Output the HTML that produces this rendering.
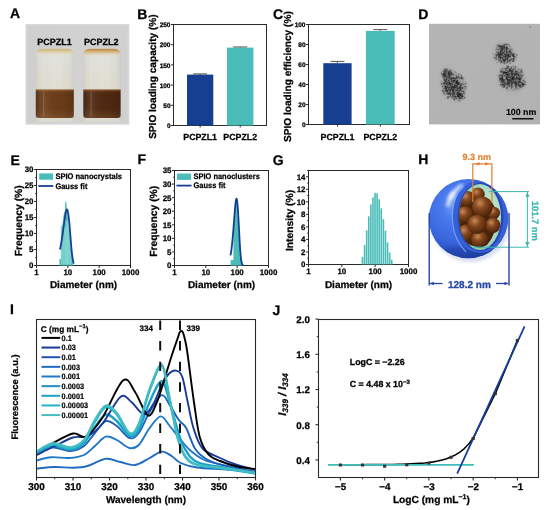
<!DOCTYPE html>
<html><head><meta charset="utf-8"><style>
html,body{margin:0;padding:0;background:#fff;width:550px;height:510px;overflow:hidden}
svg{display:block;will-change:transform}
text{font-family:"Liberation Sans",sans-serif;font-weight:bold;text-rendering:geometricPrecision}
</style></head><body>
<svg width="550" height="510" viewBox="0 0 550 510">
<rect width="550" height="510" fill="#fff"/>
<text x="10.00" y="18.20" font-size="14" text-anchor="start" fill="#000"  stroke="#000" stroke-width="0.25">A</text>
<text x="137.20" y="19.20" font-size="14" text-anchor="start" fill="#000"  stroke="#000" stroke-width="0.25">B</text>
<text x="273.00" y="19.30" font-size="14" text-anchor="start" fill="#000"  stroke="#000" stroke-width="0.25">C</text>
<text x="418.20" y="19.30" font-size="14" text-anchor="start" fill="#000"  stroke="#000" stroke-width="0.25">D</text>
<text x="10.50" y="164.60" font-size="14" text-anchor="start" fill="#000"  stroke="#000" stroke-width="0.25">E</text>
<text x="137.40" y="164.40" font-size="14" text-anchor="start" fill="#000"  stroke="#000" stroke-width="0.25">F</text>
<text x="272.80" y="165.00" font-size="14" text-anchor="start" fill="#000"  stroke="#000" stroke-width="0.25">G</text>
<text x="418.20" y="164.00" font-size="14" text-anchor="start" fill="#000"  stroke="#000" stroke-width="0.25">H</text>
<text x="10.00" y="314.20" font-size="14" text-anchor="start" fill="#000"  stroke="#000" stroke-width="0.25">I</text>
<text x="272.60" y="315.20" font-size="14" text-anchor="start" fill="#000"  stroke="#000" stroke-width="0.25">J</text>
<rect x="173.5" y="24.5" width="93.0" height="101.0" fill="none" stroke="#2a2a2a" stroke-width="1"/>
<line x1="171.00" y1="125.50" x2="173.50" y2="125.50" stroke="#2a2a2a" stroke-width="1" />
<text x="170.50" y="128.20" font-size="6.5" text-anchor="end" fill="#000"  stroke="#000" stroke-width="0.25">0</text>
<line x1="171.00" y1="105.30" x2="173.50" y2="105.30" stroke="#2a2a2a" stroke-width="1" />
<text x="170.50" y="108.00" font-size="6.5" text-anchor="end" fill="#000"  stroke="#000" stroke-width="0.25">50</text>
<line x1="171.00" y1="85.10" x2="173.50" y2="85.10" stroke="#2a2a2a" stroke-width="1" />
<text x="170.50" y="87.80" font-size="6.5" text-anchor="end" fill="#000"  stroke="#000" stroke-width="0.25">100</text>
<line x1="171.00" y1="64.90" x2="173.50" y2="64.90" stroke="#2a2a2a" stroke-width="1" />
<text x="170.50" y="67.60" font-size="6.5" text-anchor="end" fill="#000"  stroke="#000" stroke-width="0.25">150</text>
<line x1="171.00" y1="44.70" x2="173.50" y2="44.70" stroke="#2a2a2a" stroke-width="1" />
<text x="170.50" y="47.40" font-size="6.5" text-anchor="end" fill="#000"  stroke="#000" stroke-width="0.25">200</text>
<line x1="171.00" y1="24.50" x2="173.50" y2="24.50" stroke="#2a2a2a" stroke-width="1" />
<text x="170.50" y="27.20" font-size="6.5" text-anchor="end" fill="#000"  stroke="#000" stroke-width="0.25">250</text>
<rect x="187" y="74.60" width="26.30000000000001" height="50.90" fill="#163e91"/>
<line x1="200.15" y1="73.87" x2="200.15" y2="74.60" stroke="#444" stroke-width="0.9" />
<line x1="193.15" y1="73.87" x2="207.15" y2="73.87" stroke="#444" stroke-width="0.9" />
<line x1="200.15" y1="125.50" x2="200.15" y2="127.50" stroke="#2a2a2a" stroke-width="1" />
<text x="200.15" y="139.60" font-size="8.8" text-anchor="middle" fill="#000"  stroke="#000" stroke-width="0.25">PCPZL1</text>
<rect x="227" y="47.61" width="26.400000000000006" height="77.89" fill="#4bbdb8"/>
<line x1="240.20" y1="46.96" x2="240.20" y2="47.61" stroke="#444" stroke-width="0.9" />
<line x1="233.20" y1="46.96" x2="247.20" y2="46.96" stroke="#444" stroke-width="0.9" />
<line x1="240.20" y1="125.50" x2="240.20" y2="127.50" stroke="#2a2a2a" stroke-width="1" />
<text x="240.20" y="139.60" font-size="8.8" text-anchor="middle" fill="#000"  stroke="#000" stroke-width="0.25">PCPZL2</text>
<text x="0" y="0" font-size="10.1" text-anchor="middle" stroke="#000" stroke-width="0.25" transform="translate(156.4,76.6) rotate(-90)">SPIO loading capacity (%)</text>
<rect x="308.5" y="24.5" width="101.0" height="100.0" fill="none" stroke="#2a2a2a" stroke-width="1"/>
<line x1="306.00" y1="124.50" x2="308.50" y2="124.50" stroke="#2a2a2a" stroke-width="1" />
<text x="305.50" y="127.20" font-size="6.5" text-anchor="end" fill="#000"  stroke="#000" stroke-width="0.25">0</text>
<line x1="306.00" y1="104.50" x2="308.50" y2="104.50" stroke="#2a2a2a" stroke-width="1" />
<text x="305.50" y="107.20" font-size="6.5" text-anchor="end" fill="#000"  stroke="#000" stroke-width="0.25">20</text>
<line x1="306.00" y1="84.50" x2="308.50" y2="84.50" stroke="#2a2a2a" stroke-width="1" />
<text x="305.50" y="87.20" font-size="6.5" text-anchor="end" fill="#000"  stroke="#000" stroke-width="0.25">40</text>
<line x1="306.00" y1="64.50" x2="308.50" y2="64.50" stroke="#2a2a2a" stroke-width="1" />
<text x="305.50" y="67.20" font-size="6.5" text-anchor="end" fill="#000"  stroke="#000" stroke-width="0.25">60</text>
<line x1="306.00" y1="44.50" x2="308.50" y2="44.50" stroke="#2a2a2a" stroke-width="1" />
<text x="305.50" y="47.20" font-size="6.5" text-anchor="end" fill="#000"  stroke="#000" stroke-width="0.25">80</text>
<line x1="306.00" y1="24.50" x2="308.50" y2="24.50" stroke="#2a2a2a" stroke-width="1" />
<text x="305.50" y="27.20" font-size="6.5" text-anchor="end" fill="#000"  stroke="#000" stroke-width="0.25">100</text>
<rect x="323.3" y="63.20" width="28.30000000000001" height="61.30" fill="#163e91"/>
<line x1="337.45" y1="61.40" x2="337.45" y2="63.20" stroke="#444" stroke-width="0.9" />
<line x1="330.45" y1="61.40" x2="344.45" y2="61.40" stroke="#444" stroke-width="0.9" />
<line x1="337.45" y1="124.50" x2="337.45" y2="126.50" stroke="#2a2a2a" stroke-width="1" />
<text x="337.45" y="139.60" font-size="8.8" text-anchor="middle" fill="#000"  stroke="#000" stroke-width="0.25">PCPZL1</text>
<rect x="365.9" y="30.90" width="28.80000000000001" height="93.60" fill="#4bbdb8"/>
<line x1="380.30" y1="29.60" x2="380.30" y2="30.90" stroke="#444" stroke-width="0.9" />
<line x1="373.30" y1="29.60" x2="387.30" y2="29.60" stroke="#444" stroke-width="0.9" />
<line x1="380.30" y1="124.50" x2="380.30" y2="126.50" stroke="#2a2a2a" stroke-width="1" />
<text x="380.30" y="139.60" font-size="8.8" text-anchor="middle" fill="#000"  stroke="#000" stroke-width="0.25">PCPZL2</text>
<text x="0" y="0" font-size="10.1" text-anchor="middle" stroke="#000" stroke-width="0.25" transform="translate(291.3,76.6) rotate(-90)">SPIO loading efficiency (%)</text>
<rect x="36.5" y="169.5" width="94.0" height="96.0" fill="none" stroke="#2a2a2a" stroke-width="1"/>
<line x1="34.00" y1="265.50" x2="36.50" y2="265.50" stroke="#2a2a2a" stroke-width="1" />
<text x="33.50" y="268.40" font-size="7.9" text-anchor="end" fill="#000"  stroke="#000" stroke-width="0.25">0</text>
<line x1="35.00" y1="257.50" x2="36.50" y2="257.50" stroke="#2a2a2a" stroke-width="0.8" />
<line x1="34.00" y1="249.50" x2="36.50" y2="249.50" stroke="#2a2a2a" stroke-width="1" />
<text x="33.50" y="252.40" font-size="7.9" text-anchor="end" fill="#000"  stroke="#000" stroke-width="0.25">5</text>
<line x1="35.00" y1="241.50" x2="36.50" y2="241.50" stroke="#2a2a2a" stroke-width="0.8" />
<line x1="34.00" y1="233.50" x2="36.50" y2="233.50" stroke="#2a2a2a" stroke-width="1" />
<text x="33.50" y="236.40" font-size="7.9" text-anchor="end" fill="#000"  stroke="#000" stroke-width="0.25">10</text>
<line x1="35.00" y1="225.50" x2="36.50" y2="225.50" stroke="#2a2a2a" stroke-width="0.8" />
<line x1="34.00" y1="217.50" x2="36.50" y2="217.50" stroke="#2a2a2a" stroke-width="1" />
<text x="33.50" y="220.40" font-size="7.9" text-anchor="end" fill="#000"  stroke="#000" stroke-width="0.25">15</text>
<line x1="35.00" y1="209.50" x2="36.50" y2="209.50" stroke="#2a2a2a" stroke-width="0.8" />
<line x1="34.00" y1="201.50" x2="36.50" y2="201.50" stroke="#2a2a2a" stroke-width="1" />
<text x="33.50" y="204.40" font-size="7.9" text-anchor="end" fill="#000"  stroke="#000" stroke-width="0.25">20</text>
<line x1="35.00" y1="193.50" x2="36.50" y2="193.50" stroke="#2a2a2a" stroke-width="0.8" />
<line x1="34.00" y1="185.50" x2="36.50" y2="185.50" stroke="#2a2a2a" stroke-width="1" />
<text x="33.50" y="188.40" font-size="7.9" text-anchor="end" fill="#000"  stroke="#000" stroke-width="0.25">25</text>
<line x1="35.00" y1="177.50" x2="36.50" y2="177.50" stroke="#2a2a2a" stroke-width="0.8" />
<line x1="34.00" y1="169.50" x2="36.50" y2="169.50" stroke="#2a2a2a" stroke-width="1" />
<text x="33.50" y="172.40" font-size="7.9" text-anchor="end" fill="#000"  stroke="#000" stroke-width="0.25">30</text>
<line x1="36.50" y1="265.50" x2="36.50" y2="268.00" stroke="#2a2a2a" stroke-width="1" />
<text x="36.50" y="274.50" font-size="7.9" text-anchor="middle" fill="#000"  stroke="#000" stroke-width="0.25">1</text>
<line x1="67.83" y1="265.50" x2="67.83" y2="268.00" stroke="#2a2a2a" stroke-width="1" />
<text x="67.83" y="274.50" font-size="7.9" text-anchor="middle" fill="#000"  stroke="#000" stroke-width="0.25">10</text>
<line x1="99.17" y1="265.50" x2="99.17" y2="268.00" stroke="#2a2a2a" stroke-width="1" />
<text x="99.17" y="274.50" font-size="7.9" text-anchor="middle" fill="#000"  stroke="#000" stroke-width="0.25">100</text>
<line x1="130.50" y1="265.50" x2="130.50" y2="268.00" stroke="#2a2a2a" stroke-width="1" />
<text x="130.50" y="274.50" font-size="7.9" text-anchor="middle" fill="#000"  stroke="#000" stroke-width="0.25">1000</text>
<text x="83.50" y="288.10" font-size="10" text-anchor="middle" fill="#000"  stroke="#000" stroke-width="0.25">Diameter (nm)</text>
<text x="0" y="0" font-size="10.3" text-anchor="middle" stroke="#000" stroke-width="0.25" transform="translate(21.5,220.8) rotate(-90)">Frequency (%)</text>
<polygon points="59.45,265.50 59.45,259.10 60.88,259.10 60.88,227.10 62.59,223.90 63.74,214.30 64.80,211.10 65.78,201.50 66.70,207.90 67.83,217.50 69.13,230.30 70.31,243.10 71.40,252.70 72.41,260.70 73.17,265.50 73.17,265.50" fill="#4bbdb8"/>
<line x1="61.76" y1="264.50" x2="61.76" y2="220.70" stroke="#bfeeea" stroke-width="0.5" />
<line x1="62.98" y1="264.50" x2="62.98" y2="220.70" stroke="#bfeeea" stroke-width="0.5" />
<line x1="64.10" y1="264.50" x2="64.10" y2="220.70" stroke="#bfeeea" stroke-width="0.5" />
<line x1="65.30" y1="264.50" x2="65.30" y2="220.70" stroke="#bfeeea" stroke-width="0.5" />
<line x1="66.40" y1="264.50" x2="66.40" y2="220.70" stroke="#bfeeea" stroke-width="0.5" />
<line x1="67.56" y1="264.50" x2="67.56" y2="220.70" stroke="#bfeeea" stroke-width="0.5" />
<line x1="68.63" y1="264.50" x2="68.63" y2="220.70" stroke="#bfeeea" stroke-width="0.5" />
<line x1="69.85" y1="264.50" x2="69.85" y2="220.70" stroke="#bfeeea" stroke-width="0.5" />
<line x1="70.98" y1="264.50" x2="70.98" y2="220.70" stroke="#bfeeea" stroke-width="0.5" />
<line x1="65.78" y1="201.50" x2="65.78" y2="227.10" stroke="#4bbdb8" stroke-width="1" />
<path d="M59.99,249.48 C60.06,249.18 60.26,248.27 60.39,247.63 C60.52,247.00 60.65,246.34 60.78,245.67 C60.91,245.00 61.03,244.31 61.16,243.60 C61.28,242.89 61.40,242.17 61.52,241.43 C61.64,240.70 61.76,239.95 61.88,239.18 C62.00,238.42 62.12,237.65 62.23,236.87 C62.34,236.09 62.46,235.30 62.57,234.50 C62.68,233.71 62.79,232.91 62.90,232.11 C63.01,231.31 63.12,230.51 63.22,229.71 C63.33,228.92 63.44,228.12 63.54,227.33 C63.64,226.55 63.75,225.77 63.85,225.00 C63.95,224.23 64.05,223.47 64.15,222.74 C64.25,222.00 64.35,221.27 64.45,220.57 C64.54,219.87 64.64,219.19 64.74,218.53 C64.83,217.88 64.93,217.24 65.02,216.64 C65.11,216.04 65.21,215.47 65.30,214.93 C65.39,214.40 65.48,213.89 65.57,213.42 C65.66,212.96 65.75,212.52 65.84,212.13 C65.92,211.75 66.01,211.39 66.10,211.09 C66.18,210.78 66.27,210.51 66.35,210.30 C66.44,210.08 66.52,209.90 66.60,209.77 C66.69,209.64 66.77,209.56 66.85,209.52 C66.93,209.49 67.01,209.50 67.09,209.55 C67.17,209.61 67.25,209.71 67.33,209.86 C67.41,210.01 67.49,210.20 67.57,210.44 C67.64,210.68 67.72,210.96 67.80,211.29 C67.87,211.61 67.95,211.98 68.02,212.39 C68.10,212.79 68.17,213.24 68.25,213.73 C68.32,214.21 68.39,214.73 68.47,215.28 C68.54,215.83 68.61,216.42 68.68,217.03 C68.75,217.64 68.82,218.29 68.89,218.95 C68.96,219.62 69.03,220.31 69.10,221.02 C69.17,221.73 69.24,222.47 69.31,223.21 C69.38,223.96 69.45,224.72 69.51,225.49 C69.58,226.26 69.65,227.05 69.71,227.84 C69.78,228.63 69.84,229.43 69.91,230.22 C69.97,231.02 70.04,231.82 70.10,232.62 C70.17,233.42 70.23,234.22 70.30,235.01 C70.36,235.80 70.42,236.59 70.48,237.37 C70.55,238.14 70.61,238.91 70.67,239.67 C70.73,240.43 70.79,241.17 70.85,241.90 C70.92,242.63 70.98,243.35 71.04,244.05 C71.10,244.75 71.16,245.43 71.21,246.10 C71.27,246.76 71.33,247.41 71.39,248.04 C71.45,248.67 71.51,249.27 71.57,249.86 C71.62,250.45 71.68,251.02 71.74,251.57 C71.79,252.11 71.85,252.64 71.91,253.15 C71.96,253.65 72.02,254.14 72.08,254.60 C72.13,255.07 72.19,255.51 72.24,255.93 C72.30,256.36 72.35,256.76 72.41,257.14 C72.46,257.53 72.51,257.89 72.57,258.24 C72.62,258.58 72.67,258.91 72.73,259.22 C72.78,259.53 72.83,259.82 72.89,260.10 C72.94,260.37 72.99,260.63 73.04,260.87 C73.09,261.12 73.14,261.34 73.20,261.56 C73.25,261.77 73.30,261.97 73.35,262.16 C73.40,262.35 73.45,262.52 73.50,262.68 C73.55,262.85 73.60,262.99 73.65,263.14 C73.70,263.28 73.77,263.46 73.80,263.53" fill="none" stroke="#163e91" stroke-width="1.8"/>
<rect x="39.2" y="173.4" width="13.8" height="6.3" fill="#4bbdb8"/>
<text x="55.40" y="179.40" font-size="8.1" text-anchor="start" fill="#000" font-weight="normal" stroke="#000" stroke-width="0.25" textLength="66.6" lengthAdjust="spacingAndGlyphs">SPIO nanocrystals</text>
<line x1="38.40" y1="186.00" x2="53.30" y2="186.00" stroke="#163e91" stroke-width="1.8" />
<text x="55.40" y="188.50" font-size="8.1" text-anchor="start" fill="#000" font-weight="normal" stroke="#000" stroke-width="0.25" textLength="32" lengthAdjust="spacingAndGlyphs">Gauss fit</text>
<rect x="174.5" y="170.5" width="94.0" height="95.0" fill="none" stroke="#2a2a2a" stroke-width="1"/>
<line x1="172.00" y1="265.50" x2="174.50" y2="265.50" stroke="#2a2a2a" stroke-width="1" />
<text x="171.50" y="268.40" font-size="7.9" text-anchor="end" fill="#000"  stroke="#000" stroke-width="0.25">0</text>
<line x1="173.00" y1="258.71" x2="174.50" y2="258.71" stroke="#2a2a2a" stroke-width="0.8" />
<line x1="172.00" y1="251.93" x2="174.50" y2="251.93" stroke="#2a2a2a" stroke-width="1" />
<text x="171.50" y="254.83" font-size="7.9" text-anchor="end" fill="#000"  stroke="#000" stroke-width="0.25">5</text>
<line x1="173.00" y1="245.14" x2="174.50" y2="245.14" stroke="#2a2a2a" stroke-width="0.8" />
<line x1="172.00" y1="238.36" x2="174.50" y2="238.36" stroke="#2a2a2a" stroke-width="1" />
<text x="171.50" y="241.26" font-size="7.9" text-anchor="end" fill="#000"  stroke="#000" stroke-width="0.25">10</text>
<line x1="173.00" y1="231.57" x2="174.50" y2="231.57" stroke="#2a2a2a" stroke-width="0.8" />
<line x1="172.00" y1="224.79" x2="174.50" y2="224.79" stroke="#2a2a2a" stroke-width="1" />
<text x="171.50" y="227.69" font-size="7.9" text-anchor="end" fill="#000"  stroke="#000" stroke-width="0.25">15</text>
<line x1="173.00" y1="218.00" x2="174.50" y2="218.00" stroke="#2a2a2a" stroke-width="0.8" />
<line x1="172.00" y1="211.21" x2="174.50" y2="211.21" stroke="#2a2a2a" stroke-width="1" />
<text x="171.50" y="214.11" font-size="7.9" text-anchor="end" fill="#000"  stroke="#000" stroke-width="0.25">20</text>
<line x1="173.00" y1="204.43" x2="174.50" y2="204.43" stroke="#2a2a2a" stroke-width="0.8" />
<line x1="172.00" y1="197.64" x2="174.50" y2="197.64" stroke="#2a2a2a" stroke-width="1" />
<text x="171.50" y="200.54" font-size="7.9" text-anchor="end" fill="#000"  stroke="#000" stroke-width="0.25">25</text>
<line x1="173.00" y1="190.86" x2="174.50" y2="190.86" stroke="#2a2a2a" stroke-width="0.8" />
<line x1="172.00" y1="184.07" x2="174.50" y2="184.07" stroke="#2a2a2a" stroke-width="1" />
<text x="171.50" y="186.97" font-size="7.9" text-anchor="end" fill="#000"  stroke="#000" stroke-width="0.25">30</text>
<line x1="173.00" y1="177.29" x2="174.50" y2="177.29" stroke="#2a2a2a" stroke-width="0.8" />
<line x1="172.00" y1="170.50" x2="174.50" y2="170.50" stroke="#2a2a2a" stroke-width="1" />
<text x="171.50" y="173.40" font-size="7.9" text-anchor="end" fill="#000"  stroke="#000" stroke-width="0.25">35</text>
<line x1="174.50" y1="265.50" x2="174.50" y2="268.00" stroke="#2a2a2a" stroke-width="1" />
<text x="174.50" y="274.50" font-size="7.9" text-anchor="middle" fill="#000"  stroke="#000" stroke-width="0.25">1</text>
<line x1="205.83" y1="265.50" x2="205.83" y2="268.00" stroke="#2a2a2a" stroke-width="1" />
<text x="205.83" y="274.50" font-size="7.9" text-anchor="middle" fill="#000"  stroke="#000" stroke-width="0.25">10</text>
<line x1="237.17" y1="265.50" x2="237.17" y2="268.00" stroke="#2a2a2a" stroke-width="1" />
<text x="237.17" y="274.50" font-size="7.9" text-anchor="middle" fill="#000"  stroke="#000" stroke-width="0.25">100</text>
<line x1="268.50" y1="265.50" x2="268.50" y2="268.00" stroke="#2a2a2a" stroke-width="1" />
<text x="268.50" y="274.50" font-size="7.9" text-anchor="middle" fill="#000"  stroke="#000" stroke-width="0.25">1000</text>
<text x="221.50" y="288.10" font-size="10" text-anchor="middle" fill="#000"  stroke="#000" stroke-width="0.25">Diameter (nm)</text>
<text x="0" y="0" font-size="10.3" text-anchor="middle" stroke="#000" stroke-width="0.25" transform="translate(156.7,221.3) rotate(-90)">Frequency (%)</text>
<polygon points="230.66,265.50 230.66,265.50 230.66,260.07 233.43,260.07 233.43,232.93 235.11,205.79 236.61,200.36 237.70,216.64 239.42,243.79 240.94,257.36 242.68,262.79 243.56,265.50" fill="#4bbdb8"/>
<path d="M230.48,255.39 C230.54,255.06 230.72,254.14 230.84,253.45 C230.96,252.76 231.07,252.04 231.18,251.27 C231.30,250.50 231.41,249.68 231.52,248.83 C231.63,247.98 231.74,247.08 231.85,246.14 C231.96,245.21 232.07,244.23 232.17,243.21 C232.28,242.20 232.38,241.14 232.49,240.05 C232.59,238.97 232.69,237.84 232.79,236.70 C232.89,235.55 232.99,234.37 233.09,233.17 C233.19,231.98 233.29,230.75 233.39,229.52 C233.48,228.30 233.58,227.05 233.67,225.81 C233.77,224.56 233.86,223.31 233.95,222.07 C234.05,220.84 234.14,219.60 234.23,218.39 C234.32,217.18 234.41,215.99 234.50,214.83 C234.59,213.68 234.68,212.54 234.76,211.47 C234.85,210.39 234.94,209.34 235.02,208.37 C235.11,207.39 235.19,206.46 235.28,205.60 C235.36,204.74 235.45,203.95 235.53,203.23 C235.61,202.52 235.69,201.87 235.77,201.32 C235.86,200.77 235.94,200.29 236.02,199.91 C236.10,199.53 236.17,199.24 236.25,199.04 C236.33,198.84 236.41,198.74 236.49,198.73 C236.56,198.72 236.64,198.81 236.72,198.99 C236.79,199.16 236.87,199.44 236.94,199.80 C237.01,200.16 237.09,200.62 237.16,201.16 C237.24,201.70 237.31,202.33 237.38,203.02 C237.45,203.72 237.52,204.51 237.59,205.35 C237.67,206.19 237.74,207.11 237.81,208.08 C237.88,209.04 237.95,210.08 238.01,211.15 C238.08,212.22 238.15,213.34 238.22,214.49 C238.29,215.64 238.35,216.83 238.42,218.03 C238.49,219.24 238.55,220.47 238.62,221.71 C238.69,222.94 238.75,224.19 238.82,225.44 C238.88,226.68 238.95,227.93 239.01,229.16 C239.07,230.39 239.14,231.62 239.20,232.82 C239.26,234.02 239.33,235.20 239.39,236.36 C239.45,237.51 239.51,238.64 239.57,239.73 C239.64,240.82 239.70,241.89 239.76,242.91 C239.82,243.93 239.88,244.92 239.94,245.86 C240.00,246.81 240.06,247.71 240.12,248.58 C240.17,249.44 240.23,250.26 240.29,251.04 C240.35,251.82 240.41,252.55 240.46,253.25 C240.52,253.94 240.58,254.59 240.64,255.21 C240.69,255.82 240.75,256.39 240.81,256.93 C240.86,257.46 240.92,257.96 240.97,258.42 C241.03,258.88 241.08,259.30 241.14,259.70 C241.19,260.10 241.25,260.46 241.30,260.79 C241.36,261.13 241.41,261.43 241.46,261.71 C241.52,261.99 241.57,262.24 241.62,262.47 C241.67,262.71 241.73,262.91 241.78,263.10 C241.83,263.30 241.88,263.46 241.93,263.62 C241.99,263.78 242.04,263.91 242.09,264.04 C242.14,264.16 242.19,264.27 242.24,264.37 C242.29,264.47 242.34,264.56 242.39,264.64 C242.44,264.72 242.49,264.78 242.54,264.85 C242.59,264.91 242.64,264.96 242.69,265.01 C242.74,265.06 242.79,265.10 242.83,265.13 C242.88,265.17 242.93,265.20 242.98,265.23 C243.03,265.26 243.07,265.28 243.12,265.30 C243.17,265.32 243.24,265.35 243.26,265.36" fill="none" stroke="#163e91" stroke-width="1.8"/>
<rect x="177" y="173.5" width="14" height="6.4" fill="#4bbdb8"/>
<text x="193.50" y="179.40" font-size="8.1" text-anchor="start" fill="#000" font-weight="normal" stroke="#000" stroke-width="0.25" textLength="66.3" lengthAdjust="spacingAndGlyphs">SPIO nanoclusters</text>
<line x1="176.50" y1="185.60" x2="191.50" y2="185.60" stroke="#163e91" stroke-width="1.8" />
<text x="193.50" y="188.30" font-size="8.1" text-anchor="start" fill="#000" font-weight="normal" stroke="#000" stroke-width="0.25" textLength="32" lengthAdjust="spacingAndGlyphs">Gauss fit</text>
<rect x="308.5" y="170.5" width="100.0" height="94.0" fill="none" stroke="#2a2a2a" stroke-width="1"/>
<line x1="306.00" y1="264.50" x2="308.50" y2="264.50" stroke="#2a2a2a" stroke-width="1" />
<text x="305.50" y="267.40" font-size="7.9" text-anchor="end" fill="#000"  stroke="#000" stroke-width="0.25">0</text>
<line x1="307.00" y1="258.23" x2="308.50" y2="258.23" stroke="#2a2a2a" stroke-width="0.8" />
<line x1="306.00" y1="251.97" x2="308.50" y2="251.97" stroke="#2a2a2a" stroke-width="1" />
<text x="305.50" y="254.87" font-size="7.9" text-anchor="end" fill="#000"  stroke="#000" stroke-width="0.25">2</text>
<line x1="307.00" y1="245.70" x2="308.50" y2="245.70" stroke="#2a2a2a" stroke-width="0.8" />
<line x1="306.00" y1="239.43" x2="308.50" y2="239.43" stroke="#2a2a2a" stroke-width="1" />
<text x="305.50" y="242.33" font-size="7.9" text-anchor="end" fill="#000"  stroke="#000" stroke-width="0.25">4</text>
<line x1="307.00" y1="233.17" x2="308.50" y2="233.17" stroke="#2a2a2a" stroke-width="0.8" />
<line x1="306.00" y1="226.90" x2="308.50" y2="226.90" stroke="#2a2a2a" stroke-width="1" />
<text x="305.50" y="229.80" font-size="7.9" text-anchor="end" fill="#000"  stroke="#000" stroke-width="0.25">6</text>
<line x1="307.00" y1="220.63" x2="308.50" y2="220.63" stroke="#2a2a2a" stroke-width="0.8" />
<line x1="306.00" y1="214.37" x2="308.50" y2="214.37" stroke="#2a2a2a" stroke-width="1" />
<text x="305.50" y="217.27" font-size="7.9" text-anchor="end" fill="#000"  stroke="#000" stroke-width="0.25">8</text>
<line x1="307.00" y1="208.10" x2="308.50" y2="208.10" stroke="#2a2a2a" stroke-width="0.8" />
<line x1="306.00" y1="201.83" x2="308.50" y2="201.83" stroke="#2a2a2a" stroke-width="1" />
<text x="305.50" y="204.73" font-size="7.9" text-anchor="end" fill="#000"  stroke="#000" stroke-width="0.25">10</text>
<line x1="307.00" y1="195.57" x2="308.50" y2="195.57" stroke="#2a2a2a" stroke-width="0.8" />
<line x1="306.00" y1="189.30" x2="308.50" y2="189.30" stroke="#2a2a2a" stroke-width="1" />
<text x="305.50" y="192.20" font-size="7.9" text-anchor="end" fill="#000"  stroke="#000" stroke-width="0.25">12</text>
<line x1="307.00" y1="183.03" x2="308.50" y2="183.03" stroke="#2a2a2a" stroke-width="0.8" />
<line x1="306.00" y1="176.77" x2="308.50" y2="176.77" stroke="#2a2a2a" stroke-width="1" />
<text x="305.50" y="179.67" font-size="7.9" text-anchor="end" fill="#000"  stroke="#000" stroke-width="0.25">14</text>
<line x1="307.00" y1="170.50" x2="308.50" y2="170.50" stroke="#2a2a2a" stroke-width="0.8" />
<line x1="308.50" y1="264.50" x2="308.50" y2="267.00" stroke="#2a2a2a" stroke-width="1" />
<text x="308.50" y="273.50" font-size="7.9" text-anchor="middle" fill="#000"  stroke="#000" stroke-width="0.25">1</text>
<line x1="341.83" y1="264.50" x2="341.83" y2="267.00" stroke="#2a2a2a" stroke-width="1" />
<text x="341.83" y="273.50" font-size="7.9" text-anchor="middle" fill="#000"  stroke="#000" stroke-width="0.25">10</text>
<line x1="375.17" y1="264.50" x2="375.17" y2="267.00" stroke="#2a2a2a" stroke-width="1" />
<text x="375.17" y="273.50" font-size="7.9" text-anchor="middle" fill="#000"  stroke="#000" stroke-width="0.25">100</text>
<line x1="408.50" y1="264.50" x2="408.50" y2="267.00" stroke="#2a2a2a" stroke-width="1" />
<text x="408.50" y="273.50" font-size="7.9" text-anchor="middle" fill="#000"  stroke="#000" stroke-width="0.25">1000</text>
<text x="358.50" y="287.90" font-size="10" text-anchor="middle" fill="#000"  stroke="#000" stroke-width="0.25">Diameter (nm)</text>
<text x="0" y="0" font-size="10.3" text-anchor="middle" stroke="#000" stroke-width="0.25" transform="translate(293.2,220.5) rotate(-90)">Intensity (%)</text>
<rect x="361.70" y="256.98" width="1.64" height="7.52" fill="#4bbdb8"/>
<rect x="363.79" y="245.07" width="1.64" height="19.43" fill="#4bbdb8"/>
<rect x="365.87" y="230.35" width="1.64" height="34.15" fill="#4bbdb8"/>
<rect x="367.96" y="216.25" width="1.64" height="48.25" fill="#4bbdb8"/>
<rect x="370.05" y="204.53" width="1.64" height="59.97" fill="#4bbdb8"/>
<rect x="372.13" y="197.45" width="1.64" height="67.05" fill="#4bbdb8"/>
<rect x="374.22" y="192.81" width="1.64" height="71.69" fill="#4bbdb8"/>
<rect x="376.31" y="193.31" width="1.64" height="71.19" fill="#4bbdb8"/>
<rect x="378.39" y="199.33" width="1.64" height="65.17" fill="#4bbdb8"/>
<rect x="380.48" y="208.29" width="1.64" height="56.21" fill="#4bbdb8"/>
<rect x="382.57" y="219.19" width="1.64" height="45.31" fill="#4bbdb8"/>
<rect x="384.65" y="230.79" width="1.64" height="33.71" fill="#4bbdb8"/>
<rect x="386.74" y="242.50" width="1.64" height="22.00" fill="#4bbdb8"/>
<rect x="388.83" y="252.53" width="1.64" height="11.97" fill="#4bbdb8"/>
<rect x="390.91" y="259.67" width="1.64" height="4.83" fill="#4bbdb8"/>
<clipPath id="clipI"><rect x="36.5" y="319.5" width="219.0" height="158.0"/></clipPath>
<g clip-path="url(#clipI)">
<path d="M36.50,468.60 C39.54,468.33 48.67,467.13 54.75,467.00 C60.83,466.87 67.53,467.97 73.00,467.80 C78.47,467.63 82.12,467.50 87.60,466.00 C93.07,464.50 100.38,459.47 105.85,458.80 C111.32,458.13 115.58,460.97 120.45,462.00 C125.32,463.03 130.18,465.67 135.05,465.00 C139.92,464.33 145.21,460.23 149.65,458.00 C154.09,455.77 158.05,451.93 161.70,451.60 C165.35,451.27 168.39,454.10 171.55,456.00 C174.71,457.90 176.42,461.08 180.68,463.00 C184.93,464.92 189.50,466.42 197.10,467.50 C204.70,468.58 216.57,468.75 226.30,469.50 C236.03,470.25 250.63,471.58 255.50,472.00" fill="none" stroke="#1f6bc0" stroke-width="1.9" stroke-linejoin="round"/>
<path d="M36.50,460.50 C38.93,459.95 45.62,457.62 51.10,457.20 C56.58,456.78 63.87,458.37 69.35,458.00 C74.82,457.63 79.69,457.00 83.95,455.00 C88.21,453.00 91.25,449.05 94.90,446.00 C98.55,442.95 102.20,437.70 105.85,436.70 C109.50,435.70 112.85,438.12 116.80,440.00 C120.75,441.88 125.92,447.17 129.57,448.00 C133.22,448.83 135.35,448.33 138.70,445.00 C142.05,441.67 146.00,432.77 149.65,428.00 C153.30,423.23 157.25,416.73 160.60,416.40 C163.95,416.07 166.68,422.48 169.72,426.00 C172.77,429.52 175.50,433.50 178.85,437.50 C182.20,441.50 185.54,446.25 189.80,450.00 C194.06,453.75 198.32,457.33 204.40,460.00 C210.48,462.67 217.78,464.00 226.30,466.00 C234.82,468.00 250.63,471.00 255.50,472.00" fill="none" stroke="#2079c8" stroke-width="1.9" stroke-linejoin="round"/>
<path d="M36.50,455.00 C39.18,453.75 46.90,448.17 52.56,447.50 C58.22,446.83 65.21,451.25 70.45,451.00 C75.68,450.75 79.87,449.00 83.95,446.00 C88.03,443.00 91.25,437.13 94.90,433.00 C98.55,428.87 102.20,422.37 105.85,421.20 C109.50,420.03 112.85,423.20 116.80,426.00 C120.75,428.80 125.92,436.83 129.57,438.00 C133.22,439.17 135.35,437.33 138.70,433.00 C142.05,428.67 145.82,418.30 149.65,412.00 C153.48,405.70 158.35,396.37 161.70,395.20 C165.04,394.03 166.87,400.87 169.72,405.00 C172.58,409.13 176.11,416.17 178.85,420.00 C181.59,423.83 183.41,423.17 186.15,428.00 C188.89,432.83 191.62,443.67 195.28,449.00 C198.93,454.33 202.88,457.17 208.05,460.00 C213.22,462.83 218.39,464.00 226.30,466.00 C234.21,468.00 250.63,471.00 255.50,472.00" fill="none" stroke="#1f62b8" stroke-width="1.9" stroke-linejoin="round"/>
<path d="M36.50,453.50 C39.18,452.17 46.90,446.17 52.56,445.50 C58.22,444.83 65.21,449.92 70.45,449.50 C75.68,449.08 79.87,446.75 83.95,443.00 C88.03,439.25 91.25,431.73 94.90,427.00 C98.55,422.27 102.20,415.60 105.85,414.60 C109.50,413.60 112.85,417.43 116.80,421.00 C120.75,424.57 125.92,434.50 129.57,436.00 C133.22,437.50 135.35,435.67 138.70,430.00 C142.05,424.33 145.82,410.15 149.65,402.00 C153.48,393.85 158.35,381.10 161.70,381.10 C165.04,381.10 167.17,394.18 169.72,402.00 C172.28,409.82 174.59,420.33 177.03,428.00 C179.46,435.67 180.98,442.33 184.32,448.00 C187.67,453.67 190.10,458.67 197.10,462.00 C204.10,465.33 216.57,466.17 226.30,468.00 C236.03,469.83 250.63,472.17 255.50,473.00" fill="none" stroke="#1aa0c8" stroke-width="2.4" stroke-linejoin="round"/>
<path d="M36.50,455.00 C39.54,453.50 48.67,448.92 54.75,446.00 C60.83,443.08 67.53,439.17 73.00,437.50 C78.47,435.83 82.73,438.25 87.60,436.00 C92.47,433.75 96.72,430.50 102.20,424.00 C107.68,417.50 115.58,400.67 120.45,397.00 C125.32,393.33 127.51,399.12 131.40,402.00 C135.29,404.88 140.16,413.97 143.81,414.30 C147.46,414.63 150.38,408.72 153.30,404.00 C156.22,399.28 158.77,391.00 161.33,386.00 C163.88,381.00 166.20,376.57 168.63,374.00 C171.06,371.43 173.68,370.18 175.93,370.60 C178.18,371.02 180.19,371.35 182.13,376.50 C184.08,381.65 185.72,392.92 187.61,401.50 C189.50,410.08 190.96,420.17 193.45,428.00 C195.94,435.83 198.13,443.50 202.57,448.50 C207.02,453.50 214.32,455.25 220.10,458.00 C225.87,460.75 231.35,463.00 237.25,465.00 C243.15,467.00 252.46,469.17 255.50,470.00" fill="none" stroke="#1a3a99" stroke-width="1.9" stroke-linejoin="round"/>
<path d="M36.50,452.00 C38.93,450.67 45.02,447.08 51.10,444.00 C57.18,440.92 67.22,434.75 73.00,433.50 C78.78,432.25 80.91,439.08 85.78,436.50 C90.64,433.92 96.00,427.32 102.20,418.00 C108.41,408.68 117.53,384.93 123.00,380.60 C128.48,376.27 130.91,386.18 135.05,392.00 C139.19,397.82 144.17,413.83 147.82,415.50 C151.47,417.17 153.85,409.15 156.95,402.00 C160.05,394.85 163.95,380.43 166.44,372.60 C168.93,364.77 170.03,360.77 171.92,355.00 C173.80,349.23 176.42,341.87 177.75,338.00 C179.09,334.13 179.15,332.83 179.95,331.80 C180.74,330.77 181.65,330.43 182.50,331.80 C183.35,333.17 184.20,336.23 185.05,340.00 C185.91,343.77 186.21,344.65 187.61,354.40 C189.01,364.15 191.44,384.77 193.45,398.50 C195.46,412.23 197.16,427.48 199.65,436.80 C202.15,446.12 205.01,450.37 208.42,454.40 C211.82,458.43 215.29,458.98 220.10,461.00 C224.90,463.02 231.35,465.17 237.25,466.50 C243.15,467.83 252.46,468.58 255.50,469.00" fill="none" stroke="#000000" stroke-width="1.9" stroke-linejoin="round"/>
<path d="M36.50,452.50 C39.18,451.13 46.90,444.98 52.56,444.30 C58.22,443.62 65.21,448.95 70.45,448.40 C75.68,447.85 79.87,445.40 83.95,441.00 C88.03,436.60 91.25,427.67 94.90,422.00 C98.55,416.33 102.20,408.25 105.85,407.00 C109.50,405.75 112.85,409.92 116.80,414.50 C120.75,419.08 125.92,432.67 129.57,434.50 C133.22,436.33 135.35,432.83 138.70,425.50 C142.05,418.17 145.82,400.42 149.65,390.50 C153.48,380.58 158.47,365.00 161.70,366.00 C164.92,367.00 166.99,387.50 169.00,396.50 C171.00,405.50 172.16,412.58 173.74,420.00 C175.32,427.42 176.54,434.83 178.48,441.00 C180.43,447.17 182.32,453.00 185.42,457.00 C188.52,461.00 190.29,463.00 197.10,465.00 C203.91,467.00 216.57,467.58 226.30,469.00 C236.03,470.42 250.63,472.75 255.50,473.50" fill="none" stroke="#22b5c8" stroke-width="2.3" stroke-linejoin="round"/>
<path d="M36.50,451.50 C39.18,450.13 46.90,443.98 52.56,443.30 C58.22,442.62 65.21,447.95 70.45,447.40 C75.68,446.85 79.87,444.57 83.95,440.00 C88.03,435.43 91.25,425.73 94.90,420.00 C98.55,414.27 102.20,406.77 105.85,405.60 C109.50,404.43 112.85,408.43 116.80,413.00 C120.75,417.57 125.92,431.17 129.57,433.00 C133.22,434.83 135.35,431.33 138.70,424.00 C142.05,416.67 145.82,398.88 149.65,389.00 C153.48,379.12 158.47,363.67 161.70,364.70 C164.92,365.73 166.99,386.20 169.00,395.20 C171.00,404.20 172.16,411.25 173.74,418.70 C175.32,426.15 176.54,433.63 178.48,439.90 C180.43,446.17 182.32,452.20 185.42,456.30 C188.52,460.40 190.29,462.47 197.10,464.50 C203.91,466.53 216.57,467.08 226.30,468.50 C236.03,469.92 250.63,472.25 255.50,473.00" fill="none" stroke="#45bcc0" stroke-width="2.3" stroke-linejoin="round"/>
</g>
<line x1="160.20" y1="320.50" x2="160.20" y2="477.00" stroke="#111" stroke-width="2" stroke-dasharray="9.4 11.2"/>
<line x1="180.00" y1="320.50" x2="180.00" y2="477.00" stroke="#111" stroke-width="2" stroke-dasharray="9.4 11.2"/>
<rect x="36.5" y="319.5" width="219.0" height="158.0" fill="none" stroke="#2a2a2a" stroke-width="1.1"/>
<line x1="36.50" y1="477.50" x2="36.50" y2="480.50" stroke="#2a2a2a" stroke-width="1.1" />
<text x="36.50" y="489.90" font-size="9.9" text-anchor="middle" fill="#000"  stroke="#000" stroke-width="0.25">300</text>
<line x1="73.00" y1="477.50" x2="73.00" y2="480.50" stroke="#2a2a2a" stroke-width="1.1" />
<text x="73.00" y="489.90" font-size="9.9" text-anchor="middle" fill="#000"  stroke="#000" stroke-width="0.25">310</text>
<line x1="109.50" y1="477.50" x2="109.50" y2="480.50" stroke="#2a2a2a" stroke-width="1.1" />
<text x="109.50" y="489.90" font-size="9.9" text-anchor="middle" fill="#000"  stroke="#000" stroke-width="0.25">320</text>
<line x1="146.00" y1="477.50" x2="146.00" y2="480.50" stroke="#2a2a2a" stroke-width="1.1" />
<text x="146.00" y="489.90" font-size="9.9" text-anchor="middle" fill="#000"  stroke="#000" stroke-width="0.25">330</text>
<line x1="182.50" y1="477.50" x2="182.50" y2="480.50" stroke="#2a2a2a" stroke-width="1.1" />
<text x="182.50" y="489.90" font-size="9.9" text-anchor="middle" fill="#000"  stroke="#000" stroke-width="0.25">340</text>
<line x1="219.00" y1="477.50" x2="219.00" y2="480.50" stroke="#2a2a2a" stroke-width="1.1" />
<text x="219.00" y="489.90" font-size="9.9" text-anchor="middle" fill="#000"  stroke="#000" stroke-width="0.25">350</text>
<line x1="255.50" y1="477.50" x2="255.50" y2="480.50" stroke="#2a2a2a" stroke-width="1.1" />
<text x="255.50" y="489.90" font-size="9.9" text-anchor="middle" fill="#000"  stroke="#000" stroke-width="0.25">360</text>
<line x1="54.75" y1="477.50" x2="54.75" y2="479.30" stroke="#2a2a2a" stroke-width="0.9" />
<line x1="91.25" y1="477.50" x2="91.25" y2="479.30" stroke="#2a2a2a" stroke-width="0.9" />
<line x1="127.75" y1="477.50" x2="127.75" y2="479.30" stroke="#2a2a2a" stroke-width="0.9" />
<line x1="164.25" y1="477.50" x2="164.25" y2="479.30" stroke="#2a2a2a" stroke-width="0.9" />
<line x1="200.75" y1="477.50" x2="200.75" y2="479.30" stroke="#2a2a2a" stroke-width="0.9" />
<line x1="237.25" y1="477.50" x2="237.25" y2="479.30" stroke="#2a2a2a" stroke-width="0.9" />
<text x="146.00" y="502.50" font-size="10" text-anchor="middle" fill="#000"  stroke="#000" stroke-width="0.25">Wavelength (nm)</text>
<text x="0" y="0" font-size="9.35" text-anchor="middle" stroke="#000" stroke-width="0.25" transform="translate(18.3,397) rotate(-90)">Fluorescence (a.u.)</text>
<text x="146.20" y="330.50" font-size="8" text-anchor="middle" fill="#000"  stroke="#000" stroke-width="0.25">334</text>
<text x="193.20" y="330.50" font-size="8" text-anchor="middle" fill="#000"  stroke="#000" stroke-width="0.25">339</text>
<text x="40.80" y="331.60" font-size="8.3" text-anchor="start" fill="#000"  stroke="#000" stroke-width="0.25">C (mg mL<tspan font-size="5.8" dy="-3.2">−1</tspan><tspan dy="3.2">)</tspan></text>
<line x1="41.50" y1="337.90" x2="60.20" y2="337.90" stroke="#000000" stroke-width="2" />
<text x="61.60" y="340.80" font-size="7.9" text-anchor="start" fill="#000" stroke="#000" stroke-width="0.2" textLength="10.22" lengthAdjust="spacingAndGlyphs">0.1</text>
<line x1="41.50" y1="347.55" x2="60.20" y2="347.55" stroke="#1a3a99" stroke-width="2" />
<text x="61.60" y="350.45" font-size="7.9" text-anchor="start" fill="#000" stroke="#000" stroke-width="0.2" textLength="14.30" lengthAdjust="spacingAndGlyphs">0.03</text>
<line x1="41.50" y1="357.20" x2="60.20" y2="357.20" stroke="#1f55b0" stroke-width="2" />
<text x="61.60" y="360.10" font-size="7.9" text-anchor="start" fill="#000" stroke="#000" stroke-width="0.2" textLength="14.30" lengthAdjust="spacingAndGlyphs">0.01</text>
<line x1="41.50" y1="366.85" x2="60.20" y2="366.85" stroke="#1f6bc0" stroke-width="2" />
<text x="61.60" y="369.75" font-size="7.9" text-anchor="start" fill="#000" stroke="#000" stroke-width="0.2" textLength="18.39" lengthAdjust="spacingAndGlyphs">0.003</text>
<line x1="41.50" y1="376.50" x2="60.20" y2="376.50" stroke="#2079c8" stroke-width="2" />
<text x="61.60" y="379.40" font-size="7.9" text-anchor="start" fill="#000" stroke="#000" stroke-width="0.2" textLength="18.39" lengthAdjust="spacingAndGlyphs">0.001</text>
<line x1="41.50" y1="386.15" x2="60.20" y2="386.15" stroke="#1f8fc6" stroke-width="2" />
<text x="61.60" y="389.05" font-size="7.9" text-anchor="start" fill="#000" stroke="#000" stroke-width="0.2" textLength="22.48" lengthAdjust="spacingAndGlyphs">0.0003</text>
<line x1="41.50" y1="395.80" x2="60.20" y2="395.80" stroke="#1aa0c8" stroke-width="2" />
<text x="61.60" y="398.70" font-size="7.9" text-anchor="start" fill="#000" stroke="#000" stroke-width="0.2" textLength="22.48" lengthAdjust="spacingAndGlyphs">0.0001</text>
<line x1="41.50" y1="405.45" x2="60.20" y2="405.45" stroke="#22b5c8" stroke-width="2" />
<text x="61.60" y="408.35" font-size="7.9" text-anchor="start" fill="#000" stroke="#000" stroke-width="0.2" textLength="26.56" lengthAdjust="spacingAndGlyphs">0.00003</text>
<line x1="41.50" y1="415.10" x2="60.20" y2="415.10" stroke="#45bcc0" stroke-width="2" />
<text x="61.60" y="418.00" font-size="7.9" text-anchor="start" fill="#000" stroke="#000" stroke-width="0.2" textLength="26.56" lengthAdjust="spacingAndGlyphs">0.00001</text>
<rect x="318.5" y="319.5" width="220.0" height="158.0" fill="none" stroke="#2a2a2a" stroke-width="1.1"/>
<line x1="315.50" y1="459.90" x2="318.50" y2="459.90" stroke="#2a2a2a" stroke-width="1.1" />
<text x="309.90" y="463.70" font-size="9.8" text-anchor="end" fill="#000"  stroke="#000" stroke-width="0.25">0.4</text>
<line x1="315.50" y1="424.70" x2="318.50" y2="424.70" stroke="#2a2a2a" stroke-width="1.1" />
<text x="309.90" y="428.50" font-size="9.8" text-anchor="end" fill="#000"  stroke="#000" stroke-width="0.25">0.8</text>
<line x1="315.50" y1="389.50" x2="318.50" y2="389.50" stroke="#2a2a2a" stroke-width="1.1" />
<text x="309.90" y="393.30" font-size="9.8" text-anchor="end" fill="#000"  stroke="#000" stroke-width="0.25">1.2</text>
<line x1="315.50" y1="354.30" x2="318.50" y2="354.30" stroke="#2a2a2a" stroke-width="1.1" />
<text x="309.90" y="358.10" font-size="9.8" text-anchor="end" fill="#000"  stroke="#000" stroke-width="0.25">1.6</text>
<line x1="315.50" y1="319.10" x2="318.50" y2="319.10" stroke="#2a2a2a" stroke-width="1.1" />
<text x="309.90" y="322.90" font-size="9.8" text-anchor="end" fill="#000"  stroke="#000" stroke-width="0.25">2.0</text>
<line x1="316.70" y1="442.30" x2="318.50" y2="442.30" stroke="#2a2a2a" stroke-width="0.9" />
<line x1="316.70" y1="407.10" x2="318.50" y2="407.10" stroke="#2a2a2a" stroke-width="0.9" />
<line x1="316.70" y1="371.90" x2="318.50" y2="371.90" stroke="#2a2a2a" stroke-width="0.9" />
<line x1="316.70" y1="336.70" x2="318.50" y2="336.70" stroke="#2a2a2a" stroke-width="0.9" />
<line x1="340.40" y1="477.50" x2="340.40" y2="480.50" stroke="#2a2a2a" stroke-width="1.1" />
<text x="340.70" y="490.30" font-size="9.8" text-anchor="middle" fill="#000"  stroke="#000" stroke-width="0.25">−5</text>
<line x1="384.65" y1="477.50" x2="384.65" y2="480.50" stroke="#2a2a2a" stroke-width="1.1" />
<text x="384.95" y="490.30" font-size="9.8" text-anchor="middle" fill="#000"  stroke="#000" stroke-width="0.25">−4</text>
<line x1="428.90" y1="477.50" x2="428.90" y2="480.50" stroke="#2a2a2a" stroke-width="1.1" />
<text x="429.20" y="490.30" font-size="9.8" text-anchor="middle" fill="#000"  stroke="#000" stroke-width="0.25">−3</text>
<line x1="473.15" y1="477.50" x2="473.15" y2="480.50" stroke="#2a2a2a" stroke-width="1.1" />
<text x="473.45" y="490.30" font-size="9.8" text-anchor="middle" fill="#000"  stroke="#000" stroke-width="0.25">−2</text>
<line x1="517.40" y1="477.50" x2="517.40" y2="480.50" stroke="#2a2a2a" stroke-width="1.1" />
<text x="517.70" y="490.30" font-size="9.8" text-anchor="middle" fill="#000"  stroke="#000" stroke-width="0.25">−1</text>
<line x1="362.52" y1="477.50" x2="362.52" y2="479.30" stroke="#2a2a2a" stroke-width="0.9" />
<line x1="406.77" y1="477.50" x2="406.77" y2="479.30" stroke="#2a2a2a" stroke-width="0.9" />
<line x1="451.02" y1="477.50" x2="451.02" y2="479.30" stroke="#2a2a2a" stroke-width="0.9" />
<line x1="495.27" y1="477.50" x2="495.27" y2="479.30" stroke="#2a2a2a" stroke-width="0.9" />
<text x="431.40" y="503.20" font-size="10.2" text-anchor="middle" fill="#000"  stroke="#000" stroke-width="0.25">LogC (mg mL<tspan font-size="7" dy="-4">−1</tspan><tspan dy="4">)</tspan></text>
<text x="0" y="0" font-size="11.2" text-anchor="middle" font-style="italic" stroke="#000" stroke-width="0.25" transform="translate(285.6,394.5) rotate(-90)">I<tspan font-size="8" dy="2.4">339</tspan><tspan dy="-2.4"> / I</tspan><tspan font-size="8" dy="2.4">334</tspan></text>
<text x="349.80" y="364.80" font-size="8.8" text-anchor="start" fill="#000" font-weight="normal" stroke="#000" stroke-width="0.3">LogC = −2.26</text>
<text x="349.80" y="387.40" font-size="8.8" text-anchor="start" fill="#000" font-weight="normal" stroke="#000" stroke-width="0.3">C = 4.48 x 10<tspan font-size="6.2" dy="-3.8">−3</tspan></text>
<path d="M340.40,464.72 L344.82,464.72 L349.25,464.71 L353.67,464.71 L358.10,464.70 L362.52,464.68 L366.95,464.67 L371.38,464.65 L375.80,464.62 L380.23,464.59 L384.65,464.55 L389.07,464.50 L393.50,464.43 L397.92,464.34 L402.35,464.23 L406.77,464.09 L411.20,463.90 L415.62,463.67 L420.05,463.37 L424.47,462.98 L428.90,462.49 L433.32,461.86 L437.75,461.06 L442.17,460.02 L446.60,458.70 L451.02,457.01 L455.45,454.85 L459.88,452.07 L464.30,448.52 L468.72,443.98 L473.15,438.16 L495.27,393.7 L517.40,340.4" fill="none" stroke="#000" stroke-width="1.6" stroke-linejoin="round"/>
<line x1="328.01" y1="464.90" x2="473.90" y2="464.90" stroke="#3dbdb8" stroke-width="1.8" />
<line x1="457.20" y1="473.60" x2="524.60" y2="326.30" stroke="#173f9a" stroke-width="1.8" />
<rect x="338.80" y="463.50" width="3.2" height="3" fill="#333"/>
<rect x="360.92" y="463.50" width="3.2" height="3" fill="#333"/>
<rect x="383.05" y="464.70" width="3.2" height="3" fill="#333"/>
<rect x="405.17" y="463.30" width="3.2" height="3" fill="#333"/>
<rect x="427.30" y="461.50" width="3.2" height="3" fill="#333"/>
<rect x="449.42" y="455.80" width="3.2" height="3" fill="#333"/>
<rect x="471.55" y="437.00" width="3.2" height="3" fill="#333"/>
<rect x="493.67" y="392.20" width="3.2" height="3" fill="#333"/>
<rect x="515.80" y="338.90" width="3.2" height="3" fill="#333"/>
<defs>
<linearGradient id="abg" x1="0" y1="0" x2="1" y2="0">
<stop offset="0" stop-color="#cecece"/><stop offset="0.5" stop-color="#d2d2d3"/><stop offset="1" stop-color="#d0d0d0"/></linearGradient>
<linearGradient id="glass" x1="0" y1="0" x2="1" y2="0">
<stop offset="0" stop-color="#cfcfc9"/><stop offset="0.12" stop-color="#dcdcd6"/><stop offset="0.5" stop-color="#e2e2dc"/><stop offset="0.88" stop-color="#dbdbd4"/><stop offset="1" stop-color="#cdcdc7"/></linearGradient>
<linearGradient id="liq1" x1="0" y1="0" x2="0" y2="1">
<stop offset="0" stop-color="#7a4a22"/><stop offset="0.15" stop-color="#6a3c18"/><stop offset="0.7" stop-color="#6c3e19"/><stop offset="1" stop-color="#7a4e2a"/></linearGradient>
<linearGradient id="liq2" x1="0" y1="0" x2="0" y2="1">
<stop offset="0" stop-color="#6a3818"/><stop offset="0.15" stop-color="#4e2810"/><stop offset="0.7" stop-color="#522b12"/><stop offset="1" stop-color="#643c20"/></linearGradient>
<linearGradient id="tint" x1="0" y1="0" x2="0" y2="1"><stop offset="0" stop-color="#d8c890" stop-opacity="0"/><stop offset="1" stop-color="#d8c890" stop-opacity="0.14"/></linearGradient>
<linearGradient id="liqshade" x1="0" y1="0" x2="1" y2="0">
<stop offset="0" stop-color="#000" stop-opacity="0.18"/><stop offset="0.25" stop-color="#fff" stop-opacity="0.06"/><stop offset="0.6" stop-color="#000" stop-opacity="0"/><stop offset="1" stop-color="#000" stop-opacity="0.15"/></linearGradient>
<linearGradient id="cap1" x1="0" y1="0" x2="0" y2="1">
<stop offset="0" stop-color="#c9b27a"/><stop offset="0.3" stop-color="#d8c89c"/><stop offset="1" stop-color="#ebe9e0" stop-opacity="0"/></linearGradient>
<linearGradient id="cap2" x1="0" y1="0" x2="0" y2="1">
<stop offset="0" stop-color="#b8884a"/><stop offset="0.3" stop-color="#d0aa6c"/><stop offset="1" stop-color="#ebe6d8" stop-opacity="0"/></linearGradient>
</defs>
<rect x="25.7" y="24" width="103.5" height="100.5" fill="url(#abg)"/>
<rect x="26.5" y="24.8" width="101.9" height="98.9" fill="none" stroke="#dadada" stroke-width="1.6" opacity="0.8"/>
<path d="M35.2,56 Q35.2,48.6 42.2,48.6 L67.4,48.6 Q74.4,48.6 74.4,56 L74.4,118 Q74.4,121.5 70.4,121.5 L39.2,121.5 Q35.2,121.5 35.2,118 Z" fill="url(#glass)"/>
<path d="M35.5,56 Q35.5,48.8 42.2,48.8 L67.4,48.8 Q74.10000000000001,48.8 74.10000000000001,56 L74.10000000000001,57 L35.5,57 Z" fill="url(#cap1)"/>
<rect x="36.2" y="60" width="37.2" height="30" fill="url(#tint)"/>
<rect x="43.04" y="58" width="1.4" height="58" fill="#fff" opacity="0.14"/>
<rect x="60.29" y="58" width="1.4" height="58" fill="#fff" opacity="0.1"/>
<path d="M35.800000000000004,89.6 L73.80000000000001,89.6 L73.80000000000001,115 Q73.80000000000001,118 70.4,118 L39.2,118 Q35.800000000000004,118 35.800000000000004,115 Z" fill="url(#liq1)"/>
<rect x="35.800000000000004" y="89.6" width="38.0" height="28.4" fill="url(#liqshade)"/>
<rect x="36.2" y="89.4" width="37.2" height="1" fill="#c09060" opacity="0.6"/>
<rect x="43.04" y="92" width="1.2" height="24" fill="#e0b080" opacity="0.25"/>
<rect x="37.2" y="118" width="35.2" height="3.5" fill="#dcd8cc" opacity="0.8"/>
<path d="M82.8,56 Q82.8,48.6 89.8,48.6 L114.2,48.6 Q121.2,48.6 121.2,56 L121.2,118 Q121.2,121.5 117.2,121.5 L86.8,121.5 Q82.8,121.5 82.8,118 Z" fill="url(#glass)"/>
<path d="M83.1,56 Q83.1,48.8 89.8,48.8 L114.2,48.8 Q120.9,48.8 120.9,56 L120.9,57 L83.1,57 Z" fill="url(#cap2)"/>
<rect x="83.8" y="60" width="36.400000000000006" height="30" fill="url(#tint)"/>
<rect x="90.48" y="58" width="1.4" height="58" fill="#fff" opacity="0.14"/>
<rect x="107.38" y="58" width="1.4" height="58" fill="#fff" opacity="0.1"/>
<path d="M83.39999999999999,89.6 L120.60000000000001,89.6 L120.60000000000001,115 Q120.60000000000001,118 117.2,118 L86.8,118 Q83.39999999999999,118 83.39999999999999,115 Z" fill="url(#liq2)"/>
<rect x="83.39999999999999" y="89.6" width="37.2" height="28.4" fill="url(#liqshade)"/>
<rect x="83.8" y="89.4" width="36.400000000000006" height="1" fill="#c09060" opacity="0.6"/>
<rect x="90.48" y="92" width="1.2" height="24" fill="#e0b080" opacity="0.25"/>
<rect x="84.8" y="118" width="34.400000000000006" height="3.5" fill="#dcd8cc" opacity="0.8"/>
<text x="54.4" y="45" font-size="9" text-anchor="middle" stroke="#000" stroke-width="0.25">PCPZL1</text>
<text x="101.2" y="45" font-size="9" text-anchor="middle" stroke="#000" stroke-width="0.25">PCPZL2</text>
<defs><clipPath id="dclip"><rect x="429" y="23.8" width="111" height="100.6"/></clipPath><linearGradient id="dbg" x1="0" y1="0" x2="1" y2="1"><stop offset="0" stop-color="#b5b5b5"/><stop offset="1" stop-color="#b2b2b2"/></linearGradient><filter id="blur1" x="-50%" y="-50%" width="200%" height="200%"><feGaussianBlur stdDeviation="2.8"/></filter><filter id="blur2" x="-50%" y="-50%" width="200%" height="200%"><feGaussianBlur stdDeviation="0.5"/></filter></defs>
<rect x="429" y="23.8" width="111" height="100.6" fill="url(#dbg)"/>
<g clip-path="url(#dclip)">
<ellipse cx="512" cy="88" rx="9" ry="6" fill="#a8a8a8" opacity="0.6" filter="url(#blur1)"/>
<ellipse cx="453.5" cy="86" rx="10.8" ry="11.600000000000001" fill="#707070" opacity="0.45" filter="url(#blur1)"/>
<ellipse cx="447" cy="74" rx="4.800000000000001" ry="4.800000000000001" fill="#707070" opacity="0.45" filter="url(#blur1)"/>
<ellipse cx="458" cy="95" rx="6.4" ry="4.800000000000001" fill="#707070" opacity="0.45" filter="url(#blur1)"/>
<ellipse cx="505" cy="56" rx="10.0" ry="6.800000000000001" fill="#707070" opacity="0.45" filter="url(#blur1)"/>
<ellipse cx="503" cy="48.5" rx="6.800000000000001" ry="4.4" fill="#707070" opacity="0.45" filter="url(#blur1)"/>
<ellipse cx="511" cy="78" rx="11.600000000000001" ry="10.4" fill="#707070" opacity="0.45" filter="url(#blur1)"/>
<ellipse cx="520" cy="83" rx="4.800000000000001" ry="4.0" fill="#707070" opacity="0.45" filter="url(#blur1)"/>
<g filter="url(#blur2)">
<circle cx="452.2" cy="86.5" r="0.75" fill="rgb(74,74,74)" opacity="0.84"/>
<circle cx="461.7" cy="83.7" r="0.55" fill="rgb(38,38,38)" opacity="0.62"/>
<circle cx="457.7" cy="88.3" r="0.96" fill="rgb(16,16,16)" opacity="0.78"/>
<circle cx="448.8" cy="87.5" r="0.85" fill="rgb(44,44,44)" opacity="0.77"/>
<circle cx="453.5" cy="89.9" r="0.72" fill="rgb(50,50,50)" opacity="0.81"/>
<circle cx="454.9" cy="98.7" r="0.67" fill="rgb(47,47,47)" opacity="0.53"/>
<circle cx="446.2" cy="77.5" r="0.72" fill="rgb(28,28,28)" opacity="0.63"/>
<circle cx="447.3" cy="70.9" r="0.92" fill="rgb(67,67,67)" opacity="0.69"/>
<circle cx="443.2" cy="76.1" r="0.76" fill="rgb(22,22,22)" opacity="0.53"/>
<circle cx="453.1" cy="90.5" r="0.60" fill="rgb(80,80,80)" opacity="0.79"/>
<circle cx="451.4" cy="75.0" r="0.67" fill="rgb(90,90,90)" opacity="0.52"/>
<circle cx="445.8" cy="76.5" r="0.96" fill="rgb(57,57,57)" opacity="0.72"/>
<circle cx="450.4" cy="70.5" r="0.51" fill="rgb(46,46,46)" opacity="0.45"/>
<circle cx="450.0" cy="88.5" r="0.77" fill="rgb(90,90,90)" opacity="0.79"/>
<circle cx="455.5" cy="96.6" r="0.67" fill="rgb(34,34,34)" opacity="0.75"/>
<circle cx="446.2" cy="88.1" r="0.91" fill="rgb(35,35,35)" opacity="0.66"/>
<circle cx="456.3" cy="81.9" r="0.78" fill="rgb(19,19,19)" opacity="0.78"/>
<circle cx="446.9" cy="92.4" r="0.95" fill="rgb(68,68,68)" opacity="0.59"/>
<circle cx="456.1" cy="77.7" r="0.57" fill="rgb(23,23,23)" opacity="0.63"/>
<circle cx="452.9" cy="89.6" r="0.65" fill="rgb(24,24,24)" opacity="0.81"/>
<circle cx="455.8" cy="72.6" r="0.76" fill="rgb(17,17,17)" opacity="0.33"/>
<circle cx="449.7" cy="78.3" r="0.77" fill="rgb(24,24,24)" opacity="0.63"/>
<circle cx="461.4" cy="98.2" r="1.00" fill="rgb(75,75,75)" opacity="0.57"/>
<circle cx="450.3" cy="87.2" r="0.55" fill="rgb(25,25,25)" opacity="0.81"/>
<circle cx="443.1" cy="76.5" r="0.71" fill="rgb(57,57,57)" opacity="0.50"/>
<circle cx="459.8" cy="87.2" r="0.55" fill="rgb(84,84,84)" opacity="0.71"/>
<circle cx="456.2" cy="83.9" r="0.77" fill="rgb(29,29,29)" opacity="0.81"/>
<circle cx="456.6" cy="98.4" r="0.70" fill="rgb(16,16,16)" opacity="0.64"/>
<circle cx="443.9" cy="88.2" r="0.86" fill="rgb(58,58,58)" opacity="0.53"/>
<circle cx="451.9" cy="97.4" r="0.61" fill="rgb(47,47,47)" opacity="0.47"/>
<circle cx="448.5" cy="72.5" r="0.89" fill="rgb(20,20,20)" opacity="0.77"/>
<circle cx="444.6" cy="82.9" r="0.96" fill="rgb(42,42,42)" opacity="0.56"/>
<circle cx="450.3" cy="85.2" r="0.68" fill="rgb(72,72,72)" opacity="0.82"/>
<circle cx="458.3" cy="77.3" r="0.51" fill="rgb(87,87,87)" opacity="0.56"/>
<circle cx="443.7" cy="83.0" r="0.63" fill="rgb(49,49,49)" opacity="0.51"/>
<circle cx="452.1" cy="88.8" r="1.03" fill="rgb(62,62,62)" opacity="0.82"/>
<circle cx="452.7" cy="91.6" r="0.93" fill="rgb(49,49,49)" opacity="0.76"/>
<circle cx="462.9" cy="91.1" r="1.01" fill="rgb(67,67,67)" opacity="0.49"/>
<circle cx="452.2" cy="88.6" r="0.80" fill="rgb(63,63,63)" opacity="0.83"/>
<circle cx="457.6" cy="84.6" r="0.76" fill="rgb(58,58,58)" opacity="0.79"/>
<circle cx="449.4" cy="70.7" r="0.73" fill="rgb(85,85,85)" opacity="0.58"/>
<circle cx="447.4" cy="98.4" r="0.74" fill="rgb(23,23,23)" opacity="0.30"/>
<circle cx="458.6" cy="93.0" r="0.66" fill="rgb(86,86,86)" opacity="0.78"/>
<circle cx="459.7" cy="89.1" r="0.64" fill="rgb(86,86,86)" opacity="0.70"/>
<circle cx="456.5" cy="78.0" r="0.79" fill="rgb(84,84,84)" opacity="0.64"/>
<circle cx="453.6" cy="88.0" r="0.78" fill="rgb(20,20,20)" opacity="0.84"/>
<circle cx="450.8" cy="94.4" r="0.55" fill="rgb(77,77,77)" opacity="0.63"/>
<circle cx="450.9" cy="76.1" r="0.74" fill="rgb(58,58,58)" opacity="0.55"/>
<circle cx="462.0" cy="97.7" r="0.56" fill="rgb(55,55,55)" opacity="0.58"/>
<circle cx="453.5" cy="87.2" r="0.89" fill="rgb(47,47,47)" opacity="0.85"/>
<circle cx="458.9" cy="97.0" r="0.95" fill="rgb(67,67,67)" opacity="0.78"/>
<circle cx="456.6" cy="85.8" r="0.85" fill="rgb(83,83,83)" opacity="0.82"/>
<circle cx="454.3" cy="96.1" r="0.63" fill="rgb(32,32,32)" opacity="0.70"/>
<circle cx="460.0" cy="94.7" r="0.83" fill="rgb(55,55,55)" opacity="0.81"/>
<circle cx="461.0" cy="74.4" r="0.57" fill="rgb(45,45,45)" opacity="0.29"/>
<circle cx="442.6" cy="86.8" r="0.56" fill="rgb(61,61,61)" opacity="0.46"/>
<circle cx="453.7" cy="93.0" r="0.94" fill="rgb(39,39,39)" opacity="0.71"/>
<circle cx="453.0" cy="74.3" r="0.96" fill="rgb(37,37,37)" opacity="0.46"/>
<circle cx="452.5" cy="93.2" r="0.73" fill="rgb(74,74,74)" opacity="0.70"/>
<circle cx="449.6" cy="74.9" r="0.96" fill="rgb(20,20,20)" opacity="0.73"/>
<circle cx="450.9" cy="74.4" r="0.94" fill="rgb(80,80,80)" opacity="0.59"/>
<circle cx="449.2" cy="93.2" r="0.91" fill="rgb(29,29,29)" opacity="0.64"/>
<circle cx="461.0" cy="94.9" r="0.98" fill="rgb(57,57,57)" opacity="0.77"/>
<circle cx="458.8" cy="93.3" r="0.61" fill="rgb(66,66,66)" opacity="0.80"/>
<circle cx="445.0" cy="94.3" r="0.51" fill="rgb(27,27,27)" opacity="0.42"/>
<circle cx="449.6" cy="89.1" r="0.65" fill="rgb(44,44,44)" opacity="0.77"/>
<circle cx="445.8" cy="81.4" r="0.71" fill="rgb(24,24,24)" opacity="0.60"/>
<circle cx="446.9" cy="81.3" r="0.86" fill="rgb(40,40,40)" opacity="0.65"/>
<circle cx="447.4" cy="79.2" r="1.03" fill="rgb(68,68,68)" opacity="0.60"/>
<circle cx="457.2" cy="94.7" r="0.71" fill="rgb(20,20,20)" opacity="0.84"/>
<circle cx="451.6" cy="84.3" r="0.83" fill="rgb(66,66,66)" opacity="0.83"/>
<circle cx="449.9" cy="77.4" r="1.01" fill="rgb(86,86,86)" opacity="0.60"/>
<circle cx="457.9" cy="92.7" r="0.82" fill="rgb(46,46,46)" opacity="0.76"/>
<circle cx="457.1" cy="81.5" r="0.99" fill="rgb(21,21,21)" opacity="0.75"/>
<circle cx="462.1" cy="87.9" r="0.75" fill="rgb(68,68,68)" opacity="0.60"/>
<circle cx="445.5" cy="69.7" r="0.70" fill="rgb(30,30,30)" opacity="0.51"/>
<circle cx="457.3" cy="90.5" r="0.95" fill="rgb(82,82,82)" opacity="0.75"/>
<circle cx="443.7" cy="77.6" r="0.56" fill="rgb(76,76,76)" opacity="0.46"/>
<circle cx="455.3" cy="87.5" r="0.60" fill="rgb(45,45,45)" opacity="0.83"/>
<circle cx="464.7" cy="97.0" r="0.51" fill="rgb(22,22,22)" opacity="0.36"/>
<circle cx="447.0" cy="68.9" r="0.80" fill="rgb(43,43,43)" opacity="0.42"/>
<circle cx="454.9" cy="88.8" r="0.69" fill="rgb(76,76,76)" opacity="0.82"/>
<circle cx="449.1" cy="84.3" r="0.94" fill="rgb(24,24,24)" opacity="0.78"/>
<circle cx="450.5" cy="73.0" r="0.66" fill="rgb(56,56,56)" opacity="0.63"/>
<circle cx="460.5" cy="95.3" r="0.82" fill="rgb(62,62,62)" opacity="0.79"/>
<circle cx="452.5" cy="78.7" r="0.81" fill="rgb(70,70,70)" opacity="0.70"/>
<circle cx="453.1" cy="90.6" r="0.54" fill="rgb(16,16,16)" opacity="0.79"/>
<circle cx="445.8" cy="89.8" r="0.77" fill="rgb(53,53,53)" opacity="0.61"/>
<circle cx="445.9" cy="89.7" r="0.68" fill="rgb(30,30,30)" opacity="0.62"/>
<circle cx="451.9" cy="87.6" r="0.74" fill="rgb(50,50,50)" opacity="0.83"/>
<circle cx="461.7" cy="78.1" r="1.03" fill="rgb(66,66,66)" opacity="0.45"/>
<circle cx="459.7" cy="85.0" r="0.51" fill="rgb(61,61,61)" opacity="0.72"/>
<circle cx="458.3" cy="87.3" r="0.70" fill="rgb(87,87,87)" opacity="0.77"/>
<circle cx="450.5" cy="73.1" r="0.60" fill="rgb(37,37,37)" opacity="0.63"/>
<circle cx="460.5" cy="97.1" r="0.62" fill="rgb(17,17,17)" opacity="0.72"/>
<circle cx="441.6" cy="73.2" r="0.86" fill="rgb(17,17,17)" opacity="0.35"/>
<circle cx="454.8" cy="94.0" r="0.65" fill="rgb(25,25,25)" opacity="0.74"/>
<circle cx="442.8" cy="78.4" r="0.55" fill="rgb(33,33,33)" opacity="0.31"/>
<circle cx="453.2" cy="98.0" r="0.72" fill="rgb(73,73,73)" opacity="0.49"/>
<circle cx="458.2" cy="84.3" r="0.89" fill="rgb(24,24,24)" opacity="0.77"/>
<circle cx="458.0" cy="96.2" r="0.99" fill="rgb(26,26,26)" opacity="0.83"/>
<circle cx="459.2" cy="94.5" r="1.00" fill="rgb(68,68,68)" opacity="0.83"/>
<circle cx="446.6" cy="73.4" r="0.68" fill="rgb(36,36,36)" opacity="0.84"/>
<circle cx="450.5" cy="85.5" r="0.76" fill="rgb(22,22,22)" opacity="0.82"/>
<circle cx="459.7" cy="78.0" r="1.00" fill="rgb(37,37,37)" opacity="0.54"/>
<circle cx="453.0" cy="94.4" r="0.60" fill="rgb(40,40,40)" opacity="0.65"/>
<circle cx="445.9" cy="75.8" r="0.62" fill="rgb(80,80,80)" opacity="0.78"/>
<circle cx="445.0" cy="77.3" r="0.84" fill="rgb(54,54,54)" opacity="0.61"/>
<circle cx="457.8" cy="93.5" r="0.72" fill="rgb(43,43,43)" opacity="0.81"/>
<circle cx="445.9" cy="72.4" r="0.94" fill="rgb(82,82,82)" opacity="0.79"/>
<circle cx="460.9" cy="94.0" r="0.99" fill="rgb(45,45,45)" opacity="0.75"/>
<circle cx="451.2" cy="93.5" r="0.57" fill="rgb(81,81,81)" opacity="0.68"/>
<circle cx="460.0" cy="88.4" r="0.58" fill="rgb(21,21,21)" opacity="0.69"/>
<circle cx="448.2" cy="94.0" r="0.93" fill="rgb(26,26,26)" opacity="0.57"/>
<circle cx="451.2" cy="84.3" r="0.67" fill="rgb(54,54,54)" opacity="0.82"/>
<circle cx="458.2" cy="92.6" r="0.86" fill="rgb(30,30,30)" opacity="0.76"/>
<circle cx="445.6" cy="88.3" r="1.02" fill="rgb(63,63,63)" opacity="0.63"/>
<circle cx="445.1" cy="80.4" r="1.02" fill="rgb(54,54,54)" opacity="0.53"/>
<circle cx="455.2" cy="91.9" r="0.55" fill="rgb(63,63,63)" opacity="0.74"/>
<circle cx="462.6" cy="87.6" r="0.52" fill="rgb(44,44,44)" opacity="0.57"/>
<circle cx="445.5" cy="72.9" r="0.68" fill="rgb(76,76,76)" opacity="0.79"/>
<circle cx="461.3" cy="89.8" r="0.64" fill="rgb(17,17,17)" opacity="0.61"/>
<circle cx="445.1" cy="78.1" r="0.71" fill="rgb(86,86,86)" opacity="0.51"/>
<circle cx="464.4" cy="86.1" r="0.78" fill="rgb(79,79,79)" opacity="0.46"/>
<circle cx="465.3" cy="86.7" r="0.93" fill="rgb(40,40,40)" opacity="0.40"/>
<circle cx="443.7" cy="83.8" r="0.68" fill="rgb(57,57,57)" opacity="0.52"/>
<circle cx="454.7" cy="86.5" r="0.59" fill="rgb(48,48,48)" opacity="0.84"/>
<circle cx="460.1" cy="97.6" r="0.57" fill="rgb(33,33,33)" opacity="0.70"/>
<circle cx="445.0" cy="86.1" r="0.72" fill="rgb(19,19,19)" opacity="0.61"/>
<circle cx="449.1" cy="72.3" r="0.53" fill="rgb(57,57,57)" opacity="0.73"/>
<circle cx="450.9" cy="84.4" r="0.73" fill="rgb(59,59,59)" opacity="0.82"/>
<circle cx="456.8" cy="90.7" r="0.77" fill="rgb(51,51,51)" opacity="0.75"/>
<circle cx="463.1" cy="81.5" r="0.56" fill="rgb(87,87,87)" opacity="0.49"/>
<circle cx="454.1" cy="81.9" r="0.66" fill="rgb(21,21,21)" opacity="0.80"/>
<circle cx="456.6" cy="82.3" r="0.91" fill="rgb(56,56,56)" opacity="0.78"/>
<circle cx="448.2" cy="87.6" r="0.96" fill="rgb(30,30,30)" opacity="0.75"/>
<circle cx="459.7" cy="96.8" r="0.73" fill="rgb(84,84,84)" opacity="0.77"/>
<circle cx="455.3" cy="97.8" r="0.57" fill="rgb(31,31,31)" opacity="0.65"/>
<circle cx="454.5" cy="99.4" r="0.90" fill="rgb(46,46,46)" opacity="0.42"/>
<circle cx="451.9" cy="82.9" r="0.70" fill="rgb(33,33,33)" opacity="0.81"/>
<circle cx="466.4" cy="83.6" r="0.97" fill="rgb(52,52,52)" opacity="0.29"/>
<circle cx="455.1" cy="85.6" r="0.86" fill="rgb(21,21,21)" opacity="0.84"/>
<circle cx="443.3" cy="90.8" r="0.78" fill="rgb(45,45,45)" opacity="0.44"/>
<circle cx="444.9" cy="75.5" r="0.75" fill="rgb(26,26,26)" opacity="0.74"/>
<circle cx="451.4" cy="86.8" r="0.64" fill="rgb(39,39,39)" opacity="0.83"/>
<circle cx="447.5" cy="86.1" r="1.04" fill="rgb(34,34,34)" opacity="0.73"/>
<circle cx="444.9" cy="86.3" r="0.68" fill="rgb(61,61,61)" opacity="0.61"/>
<circle cx="454.4" cy="87.6" r="0.83" fill="rgb(29,29,29)" opacity="0.84"/>
<circle cx="461.2" cy="94.1" r="0.80" fill="rgb(77,77,77)" opacity="0.74"/>
<circle cx="463.0" cy="87.9" r="0.83" fill="rgb(40,40,40)" opacity="0.54"/>
<circle cx="444.9" cy="73.0" r="0.94" fill="rgb(78,78,78)" opacity="0.76"/>
<circle cx="453.6" cy="91.9" r="0.54" fill="rgb(18,18,18)" opacity="0.75"/>
<circle cx="461.4" cy="75.9" r="0.73" fill="rgb(54,54,54)" opacity="0.36"/>
<circle cx="458.8" cy="95.0" r="0.92" fill="rgb(48,48,48)" opacity="0.84"/>
<circle cx="453.5" cy="89.5" r="0.64" fill="rgb(63,63,63)" opacity="0.82"/>
<circle cx="451.1" cy="80.0" r="0.57" fill="rgb(20,20,20)" opacity="0.73"/>
<circle cx="460.4" cy="87.8" r="0.79" fill="rgb(73,73,73)" opacity="0.69"/>
<circle cx="451.1" cy="85.3" r="0.66" fill="rgb(86,86,86)" opacity="0.83"/>
<circle cx="451.5" cy="70.5" r="0.66" fill="rgb(44,44,44)" opacity="0.32"/>
<circle cx="451.3" cy="70.8" r="0.69" fill="rgb(54,54,54)" opacity="0.38"/>
<circle cx="466.5" cy="88.2" r="0.82" fill="rgb(66,66,66)" opacity="0.29"/>
<circle cx="463.2" cy="98.9" r="0.93" fill="rgb(63,63,63)" opacity="0.35"/>
<circle cx="445.8" cy="79.5" r="0.94" fill="rgb(85,85,85)" opacity="0.54"/>
<circle cx="453.0" cy="81.2" r="0.76" fill="rgb(54,54,54)" opacity="0.78"/>
<circle cx="453.2" cy="88.7" r="0.61" fill="rgb(77,77,77)" opacity="0.83"/>
<circle cx="449.8" cy="77.1" r="0.91" fill="rgb(38,38,38)" opacity="0.58"/>
<circle cx="453.8" cy="86.7" r="0.65" fill="rgb(42,42,42)" opacity="0.85"/>
<circle cx="449.7" cy="93.3" r="0.51" fill="rgb(30,30,30)" opacity="0.65"/>
<circle cx="448.7" cy="80.7" r="0.68" fill="rgb(63,63,63)" opacity="0.69"/>
<circle cx="460.8" cy="85.1" r="0.83" fill="rgb(65,65,65)" opacity="0.67"/>
<circle cx="443.4" cy="74.9" r="0.80" fill="rgb(76,76,76)" opacity="0.63"/>
<circle cx="443.7" cy="91.3" r="0.87" fill="rgb(72,72,72)" opacity="0.45"/>
<circle cx="444.0" cy="74.8" r="0.72" fill="rgb(72,72,72)" opacity="0.69"/>
<circle cx="450.4" cy="96.6" r="0.70" fill="rgb(52,52,52)" opacity="0.50"/>
<circle cx="460.2" cy="83.9" r="0.86" fill="rgb(53,53,53)" opacity="0.69"/>
<circle cx="455.1" cy="79.7" r="0.63" fill="rgb(62,62,62)" opacity="0.73"/>
<circle cx="451.5" cy="81.0" r="1.01" fill="rgb(64,64,64)" opacity="0.77"/>
<circle cx="447.7" cy="91.2" r="0.61" fill="rgb(66,66,66)" opacity="0.66"/>
<circle cx="461.7" cy="83.8" r="0.67" fill="rgb(85,85,85)" opacity="0.62"/>
<circle cx="464.7" cy="97.8" r="1.00" fill="rgb(23,23,23)" opacity="0.31"/>
<circle cx="448.7" cy="80.3" r="0.85" fill="rgb(38,38,38)" opacity="0.68"/>
<circle cx="445.8" cy="70.5" r="0.73" fill="rgb(84,84,84)" opacity="0.62"/>
<circle cx="453.7" cy="78.2" r="0.58" fill="rgb(17,17,17)" opacity="0.68"/>
<circle cx="445.2" cy="75.5" r="0.79" fill="rgb(45,45,45)" opacity="0.76"/>
<circle cx="461.5" cy="76.7" r="0.67" fill="rgb(17,17,17)" opacity="0.40"/>
<circle cx="459.3" cy="90.9" r="0.95" fill="rgb(39,39,39)" opacity="0.67"/>
<circle cx="444.3" cy="88.5" r="0.66" fill="rgb(87,87,87)" opacity="0.56"/>
<circle cx="451.2" cy="80.1" r="0.63" fill="rgb(78,78,78)" opacity="0.73"/>
<circle cx="446.7" cy="78.7" r="0.91" fill="rgb(80,80,80)" opacity="0.55"/>
<circle cx="462.1" cy="97.2" r="0.78" fill="rgb(72,72,72)" opacity="0.61"/>
<circle cx="456.8" cy="81.6" r="0.64" fill="rgb(59,59,59)" opacity="0.76"/>
<circle cx="453.7" cy="94.3" r="0.70" fill="rgb(47,47,47)" opacity="0.67"/>
<circle cx="445.5" cy="86.6" r="0.85" fill="rgb(68,68,68)" opacity="0.64"/>
<circle cx="443.4" cy="92.4" r="0.57" fill="rgb(35,35,35)" opacity="0.40"/>
<circle cx="450.2" cy="90.1" r="1.04" fill="rgb(38,38,38)" opacity="0.77"/>
<circle cx="452.7" cy="90.9" r="0.65" fill="rgb(32,32,32)" opacity="0.78"/>
<circle cx="447.3" cy="76.3" r="1.01" fill="rgb(64,64,64)" opacity="0.76"/>
<circle cx="459.7" cy="100.8" r="1.00" fill="rgb(57,57,57)" opacity="0.27"/>
<circle cx="462.5" cy="96.2" r="0.67" fill="rgb(23,23,23)" opacity="0.64"/>
<circle cx="461.6" cy="95.7" r="0.90" fill="rgb(65,65,65)" opacity="0.72"/>
<circle cx="451.0" cy="72.7" r="0.80" fill="rgb(42,42,42)" opacity="0.55"/>
<circle cx="446.8" cy="84.1" r="0.99" fill="rgb(56,56,56)" opacity="0.69"/>
<circle cx="447.3" cy="86.8" r="0.65" fill="rgb(66,66,66)" opacity="0.72"/>
<circle cx="446.1" cy="83.9" r="0.81" fill="rgb(48,48,48)" opacity="0.66"/>
<circle cx="460.5" cy="90.1" r="0.77" fill="rgb(58,58,58)" opacity="0.64"/>
<circle cx="463.4" cy="84.0" r="0.72" fill="rgb(86,86,86)" opacity="0.52"/>
<circle cx="444.7" cy="68.9" r="0.87" fill="rgb(30,30,30)" opacity="0.33"/>
<circle cx="453.4" cy="78.2" r="1.01" fill="rgb(27,27,27)" opacity="0.68"/>
<circle cx="453.0" cy="95.7" r="0.51" fill="rgb(18,18,18)" opacity="0.61"/>
<circle cx="456.9" cy="82.8" r="1.00" fill="rgb(23,23,23)" opacity="0.78"/>
<circle cx="448.7" cy="71.1" r="0.62" fill="rgb(38,38,38)" opacity="0.66"/>
<circle cx="460.1" cy="86.0" r="0.69" fill="rgb(37,37,37)" opacity="0.71"/>
<circle cx="444.2" cy="80.3" r="0.51" fill="rgb(17,17,17)" opacity="0.48"/>
<circle cx="453.6" cy="81.3" r="0.96" fill="rgb(83,83,83)" opacity="0.79"/>
<circle cx="455.6" cy="78.6" r="0.77" fill="rgb(43,43,43)" opacity="0.68"/>
<circle cx="463.8" cy="93.7" r="0.58" fill="rgb(16,16,16)" opacity="0.51"/>
<circle cx="457.1" cy="80.5" r="0.84" fill="rgb(42,42,42)" opacity="0.72"/>
<circle cx="449.3" cy="82.5" r="0.78" fill="rgb(69,69,69)" opacity="0.76"/>
<circle cx="458.6" cy="83.0" r="0.96" fill="rgb(68,68,68)" opacity="0.74"/>
<circle cx="453.5" cy="80.4" r="0.78" fill="rgb(20,20,20)" opacity="0.76"/>
<circle cx="456.0" cy="87.6" r="0.80" fill="rgb(34,34,34)" opacity="0.82"/>
<circle cx="448.9" cy="76.4" r="0.91" fill="rgb(39,39,39)" opacity="0.69"/>
<circle cx="462.4" cy="94.3" r="0.54" fill="rgb(48,48,48)" opacity="0.66"/>
<circle cx="463.5" cy="91.5" r="0.75" fill="rgb(59,59,59)" opacity="0.44"/>
<circle cx="454.5" cy="96.6" r="1.03" fill="rgb(50,50,50)" opacity="0.69"/>
<circle cx="446.4" cy="71.5" r="0.98" fill="rgb(77,77,77)" opacity="0.74"/>
<circle cx="441.9" cy="84.4" r="1.03" fill="rgb(85,85,85)" opacity="0.41"/>
<circle cx="445.9" cy="77.5" r="0.52" fill="rgb(64,64,64)" opacity="0.63"/>
<circle cx="458.4" cy="83.4" r="1.04" fill="rgb(26,26,26)" opacity="0.75"/>
<circle cx="449.2" cy="78.4" r="0.86" fill="rgb(50,50,50)" opacity="0.63"/>
<circle cx="445.6" cy="74.9" r="0.88" fill="rgb(36,36,36)" opacity="0.81"/>
<circle cx="452.6" cy="72.3" r="0.84" fill="rgb(59,59,59)" opacity="0.31"/>
<circle cx="458.7" cy="92.3" r="0.92" fill="rgb(54,54,54)" opacity="0.72"/>
<circle cx="445.4" cy="70.4" r="0.95" fill="rgb(62,62,62)" opacity="0.59"/>
<circle cx="451.0" cy="83.1" r="0.69" fill="rgb(27,27,27)" opacity="0.81"/>
<circle cx="447.7" cy="96.8" r="0.87" fill="rgb(25,25,25)" opacity="0.41"/>
<circle cx="460.1" cy="87.8" r="0.70" fill="rgb(23,23,23)" opacity="0.70"/>
<circle cx="449.0" cy="87.3" r="0.66" fill="rgb(49,49,49)" opacity="0.78"/>
<circle cx="458.8" cy="90.2" r="0.71" fill="rgb(67,67,67)" opacity="0.71"/>
<circle cx="456.0" cy="96.6" r="0.69" fill="rgb(50,50,50)" opacity="0.77"/>
<circle cx="462.2" cy="96.1" r="0.86" fill="rgb(84,84,84)" opacity="0.67"/>
<circle cx="462.0" cy="96.8" r="0.76" fill="rgb(34,34,34)" opacity="0.65"/>
<circle cx="449.8" cy="83.3" r="1.03" fill="rgb(22,22,22)" opacity="0.78"/>
<circle cx="458.9" cy="100.9" r="0.86" fill="rgb(74,74,74)" opacity="0.26"/>
<circle cx="461.3" cy="98.8" r="0.62" fill="rgb(89,89,89)" opacity="0.51"/>
<circle cx="450.0" cy="72.7" r="0.50" fill="rgb(25,25,25)" opacity="0.68"/>
<circle cx="452.8" cy="97.2" r="0.51" fill="rgb(34,34,34)" opacity="0.52"/>
<circle cx="454.5" cy="85.6" r="0.67" fill="rgb(27,27,27)" opacity="0.85"/>
<circle cx="443.5" cy="70.9" r="0.69" fill="rgb(52,52,52)" opacity="0.49"/>
<circle cx="446.6" cy="87.5" r="0.82" fill="rgb(42,42,42)" opacity="0.69"/>
<circle cx="444.6" cy="71.4" r="0.95" fill="rgb(28,28,28)" opacity="0.65"/>
<circle cx="447.9" cy="88.4" r="0.67" fill="rgb(78,78,78)" opacity="0.73"/>
<circle cx="441.2" cy="81.7" r="0.80" fill="rgb(48,48,48)" opacity="0.31"/>
<circle cx="456.9" cy="76.8" r="0.70" fill="rgb(43,43,43)" opacity="0.57"/>
<circle cx="451.6" cy="83.7" r="0.68" fill="rgb(70,70,70)" opacity="0.82"/>
<circle cx="444.4" cy="80.6" r="0.87" fill="rgb(43,43,43)" opacity="0.50"/>
<circle cx="454.2" cy="92.2" r="1.03" fill="rgb(90,90,90)" opacity="0.74"/>
<circle cx="449.9" cy="87.7" r="0.62" fill="rgb(53,53,53)" opacity="0.80"/>
<circle cx="445.0" cy="71.9" r="0.53" fill="rgb(59,59,59)" opacity="0.71"/>
<circle cx="442.5" cy="76.3" r="0.86" fill="rgb(69,69,69)" opacity="0.43"/>
<circle cx="450.1" cy="71.0" r="0.55" fill="rgb(27,27,27)" opacity="0.54"/>
<circle cx="461.3" cy="89.2" r="0.53" fill="rgb(77,77,77)" opacity="0.62"/>
<circle cx="456.9" cy="86.2" r="0.84" fill="rgb(17,17,17)" opacity="0.81"/>
<circle cx="462.2" cy="83.8" r="0.59" fill="rgb(24,24,24)" opacity="0.59"/>
<circle cx="442.3" cy="90.6" r="0.87" fill="rgb(72,72,72)" opacity="0.38"/>
<circle cx="459.6" cy="95.6" r="0.87" fill="rgb(60,60,60)" opacity="0.82"/>
<circle cx="454.8" cy="71.7" r="0.88" fill="rgb(54,54,54)" opacity="0.27"/>
<circle cx="444.2" cy="77.0" r="1.01" fill="rgb(70,70,70)" opacity="0.57"/>
<circle cx="445.4" cy="91.2" r="0.88" fill="rgb(70,70,70)" opacity="0.56"/>
<circle cx="450.5" cy="93.7" r="0.93" fill="rgb(36,36,36)" opacity="0.65"/>
<circle cx="457.6" cy="80.4" r="0.75" fill="rgb(64,64,64)" opacity="0.71"/>
<circle cx="455.9" cy="83.3" r="0.76" fill="rgb(33,33,33)" opacity="0.81"/>
<circle cx="458.8" cy="75.7" r="0.82" fill="rgb(67,67,67)" opacity="0.46"/>
<circle cx="450.2" cy="91.6" r="0.81" fill="rgb(23,23,23)" opacity="0.72"/>
<circle cx="452.3" cy="84.1" r="0.87" fill="rgb(28,28,28)" opacity="0.83"/>
<circle cx="449.5" cy="73.3" r="0.58" fill="rgb(77,77,77)" opacity="0.74"/>
<circle cx="461.2" cy="75.2" r="0.91" fill="rgb(83,83,83)" opacity="0.33"/>
<circle cx="449.3" cy="73.4" r="0.99" fill="rgb(36,36,36)" opacity="0.76"/>
<circle cx="463.2" cy="92.0" r="0.70" fill="rgb(46,46,46)" opacity="0.45"/>
<circle cx="458.0" cy="77.5" r="0.77" fill="rgb(48,48,48)" opacity="0.58"/>
<circle cx="447.4" cy="77.4" r="0.58" fill="rgb(80,80,80)" opacity="0.66"/>
<circle cx="450.5" cy="95.1" r="0.84" fill="rgb(31,31,31)" opacity="0.59"/>
<circle cx="454.7" cy="92.2" r="0.93" fill="rgb(90,90,90)" opacity="0.74"/>
<circle cx="449.8" cy="94.0" r="0.88" fill="rgb(72,72,72)" opacity="0.62"/>
<circle cx="449.3" cy="75.1" r="0.81" fill="rgb(49,49,49)" opacity="0.74"/>
<circle cx="448.4" cy="96.8" r="0.58" fill="rgb(23,23,23)" opacity="0.43"/>
<circle cx="443.8" cy="74.4" r="0.81" fill="rgb(18,18,18)" opacity="0.68"/>
<circle cx="466.3" cy="86.5" r="0.64" fill="rgb(53,53,53)" opacity="0.32"/>
<circle cx="445.9" cy="77.0" r="1.02" fill="rgb(84,84,84)" opacity="0.68"/>
<circle cx="458.5" cy="88.2" r="0.55" fill="rgb(36,36,36)" opacity="0.75"/>
<circle cx="454.0" cy="99.7" r="0.66" fill="rgb(29,29,29)" opacity="0.34"/>
<circle cx="451.2" cy="72.9" r="0.97" fill="rgb(81,81,81)" opacity="0.54"/>
<circle cx="460.7" cy="90.1" r="0.54" fill="rgb(62,62,62)" opacity="0.63"/>
<circle cx="451.0" cy="79.1" r="0.99" fill="rgb(16,16,16)" opacity="0.69"/>
<circle cx="446.5" cy="69.6" r="0.79" fill="rgb(57,57,57)" opacity="0.52"/>
<circle cx="451.2" cy="74.6" r="0.76" fill="rgb(72,72,72)" opacity="0.55"/>
<circle cx="461.2" cy="79.0" r="0.83" fill="rgb(48,48,48)" opacity="0.52"/>
<circle cx="455.5" cy="86.9" r="0.63" fill="rgb(54,54,54)" opacity="0.83"/>
<circle cx="458.2" cy="94.1" r="0.88" fill="rgb(25,25,25)" opacity="0.84"/>
<circle cx="453.6" cy="82.6" r="1.04" fill="rgb(86,86,86)" opacity="0.82"/>
<circle cx="449.1" cy="94.1" r="0.81" fill="rgb(51,51,51)" opacity="0.60"/>
<circle cx="465.8" cy="82.0" r="0.61" fill="rgb(23,23,23)" opacity="0.31"/>
<circle cx="445.2" cy="72.5" r="0.70" fill="rgb(73,73,73)" opacity="0.76"/>
<circle cx="459.6" cy="98.5" r="1.04" fill="rgb(24,24,24)" opacity="0.62"/>
<circle cx="459.6" cy="90.3" r="0.60" fill="rgb(56,56,56)" opacity="0.68"/>
<circle cx="443.3" cy="85.4" r="0.74" fill="rgb(87,87,87)" opacity="0.51"/>
<circle cx="461.7" cy="76.6" r="0.51" fill="rgb(43,43,43)" opacity="0.38"/>
<circle cx="465.2" cy="90.3" r="0.85" fill="rgb(57,57,57)" opacity="0.35"/>
<circle cx="451.9" cy="87.3" r="0.59" fill="rgb(51,51,51)" opacity="0.84"/>
<circle cx="444.7" cy="92.3" r="0.51" fill="rgb(17,17,17)" opacity="0.48"/>
<circle cx="444.5" cy="72.7" r="0.74" fill="rgb(68,68,68)" opacity="0.72"/>
<circle cx="453.3" cy="90.4" r="0.76" fill="rgb(35,35,35)" opacity="0.80"/>
<circle cx="455.0" cy="81.3" r="0.66" fill="rgb(58,58,58)" opacity="0.78"/>
<circle cx="442.6" cy="90.7" r="0.56" fill="rgb(86,86,86)" opacity="0.40"/>
<circle cx="460.1" cy="94.4" r="0.86" fill="rgb(15,15,15)" opacity="0.80"/>
<circle cx="450.8" cy="84.4" r="0.75" fill="rgb(87,87,87)" opacity="0.82"/>
<circle cx="457.3" cy="100.0" r="0.53" fill="rgb(71,71,71)" opacity="0.43"/>
<circle cx="450.8" cy="69.4" r="0.56" fill="rgb(79,79,79)" opacity="0.26"/>
<circle cx="449.5" cy="69.9" r="0.58" fill="rgb(76,76,76)" opacity="0.47"/>
<circle cx="448.5" cy="90.0" r="0.86" fill="rgb(40,40,40)" opacity="0.72"/>
<circle cx="458.6" cy="82.7" r="0.88" fill="rgb(31,31,31)" opacity="0.73"/>
<circle cx="462.0" cy="78.0" r="1.03" fill="rgb(17,17,17)" opacity="0.43"/>
<circle cx="457.8" cy="83.5" r="1.01" fill="rgb(66,66,66)" opacity="0.77"/>
<circle cx="448.4" cy="74.1" r="1.04" fill="rgb(48,48,48)" opacity="0.82"/>
<circle cx="460.8" cy="93.9" r="0.65" fill="rgb(87,87,87)" opacity="0.76"/>
<circle cx="453.3" cy="98.5" r="0.52" fill="rgb(60,60,60)" opacity="0.44"/>
<circle cx="446.2" cy="88.4" r="0.78" fill="rgb(34,34,34)" opacity="0.66"/>
<circle cx="448.5" cy="77.0" r="0.88" fill="rgb(49,49,49)" opacity="0.66"/>
<circle cx="449.0" cy="77.2" r="0.54" fill="rgb(77,77,77)" opacity="0.61"/>
<circle cx="442.6" cy="91.3" r="0.64" fill="rgb(82,82,82)" opacity="0.38"/>
<circle cx="445.4" cy="87.2" r="0.72" fill="rgb(56,56,56)" opacity="0.63"/>
<circle cx="463.2" cy="96.3" r="0.72" fill="rgb(42,42,42)" opacity="0.57"/>
<circle cx="460.6" cy="86.3" r="1.00" fill="rgb(79,79,79)" opacity="0.69"/>
<circle cx="448.6" cy="93.3" r="0.75" fill="rgb(22,22,22)" opacity="0.62"/>
<circle cx="447.3" cy="90.9" r="1.05" fill="rgb(31,31,31)" opacity="0.66"/>
<circle cx="453.5" cy="93.9" r="0.87" fill="rgb(45,45,45)" opacity="0.67"/>
<circle cx="441.5" cy="83.6" r="0.91" fill="rgb(24,24,24)" opacity="0.36"/>
<circle cx="459.7" cy="88.4" r="0.97" fill="rgb(46,46,46)" opacity="0.71"/>
<circle cx="453.1" cy="87.4" r="0.68" fill="rgb(30,30,30)" opacity="0.84"/>
<circle cx="459.5" cy="87.0" r="0.64" fill="rgb(39,39,39)" opacity="0.73"/>
<circle cx="461.4" cy="91.4" r="0.86" fill="rgb(61,61,61)" opacity="0.57"/>
<circle cx="445.5" cy="82.4" r="0.73" fill="rgb(17,17,17)" opacity="0.60"/>
<circle cx="448.2" cy="93.5" r="0.84" fill="rgb(75,75,75)" opacity="0.60"/>
<circle cx="454.9" cy="89.8" r="1.04" fill="rgb(79,79,79)" opacity="0.80"/>
<circle cx="451.7" cy="89.6" r="0.80" fill="rgb(25,25,25)" opacity="0.80"/>
<circle cx="451.2" cy="93.3" r="0.62" fill="rgb(63,63,63)" opacity="0.68"/>
<circle cx="459.2" cy="93.1" r="0.76" fill="rgb(89,89,89)" opacity="0.78"/>
<circle cx="446.9" cy="90.5" r="1.04" fill="rgb(35,35,35)" opacity="0.65"/>
<circle cx="443.7" cy="93.8" r="1.02" fill="rgb(80,80,80)" opacity="0.37"/>
<circle cx="447.4" cy="86.7" r="0.68" fill="rgb(78,78,78)" opacity="0.73"/>
<circle cx="447.8" cy="82.3" r="0.67" fill="rgb(16,16,16)" opacity="0.71"/>
<circle cx="450.3" cy="77.0" r="0.78" fill="rgb(83,83,83)" opacity="0.59"/>
<circle cx="454.6" cy="81.1" r="0.84" fill="rgb(54,54,54)" opacity="0.78"/>
<circle cx="462.5" cy="88.2" r="0.56" fill="rgb(18,18,18)" opacity="0.57"/>
<circle cx="460.0" cy="76.7" r="0.52" fill="rgb(89,89,89)" opacity="0.47"/>
<circle cx="462.1" cy="96.4" r="0.88" fill="rgb(61,61,61)" opacity="0.66"/>
<circle cx="449.1" cy="97.0" r="0.89" fill="rgb(75,75,75)" opacity="0.45"/>
<circle cx="449.7" cy="86.1" r="0.58" fill="rgb(55,55,55)" opacity="0.80"/>
<circle cx="451.9" cy="82.2" r="0.87" fill="rgb(90,90,90)" opacity="0.80"/>
<circle cx="446.1" cy="80.0" r="0.97" fill="rgb(21,21,21)" opacity="0.57"/>
<circle cx="460.1" cy="93.3" r="0.51" fill="rgb(89,89,89)" opacity="0.76"/>
<circle cx="448.7" cy="87.6" r="0.83" fill="rgb(77,77,77)" opacity="0.77"/>
<circle cx="458.8" cy="73.8" r="0.88" fill="rgb(34,34,34)" opacity="0.34"/>
<circle cx="448.7" cy="83.4" r="0.51" fill="rgb(86,86,86)" opacity="0.76"/>
<circle cx="451.2" cy="73.7" r="0.97" fill="rgb(35,35,35)" opacity="0.55"/>
<circle cx="452.7" cy="84.9" r="0.88" fill="rgb(71,71,71)" opacity="0.84"/>
<circle cx="453.5" cy="81.6" r="0.65" fill="rgb(79,79,79)" opacity="0.80"/>
<circle cx="461.7" cy="95.9" r="0.67" fill="rgb(52,52,52)" opacity="0.71"/>
<circle cx="456.7" cy="77.4" r="0.88" fill="rgb(86,86,86)" opacity="0.61"/>
<circle cx="458.7" cy="92.6" r="0.78" fill="rgb(65,65,65)" opacity="0.75"/>
<circle cx="446.1" cy="87.1" r="0.54" fill="rgb(39,39,39)" opacity="0.67"/>
<circle cx="454.7" cy="85.0" r="0.78" fill="rgb(52,52,52)" opacity="0.84"/>
<circle cx="451.8" cy="93.2" r="0.89" fill="rgb(89,89,89)" opacity="0.70"/>
<circle cx="464.9" cy="88.3" r="0.83" fill="rgb(42,42,42)" opacity="0.41"/>
<circle cx="446.6" cy="78.3" r="0.79" fill="rgb(86,86,86)" opacity="0.55"/>
<circle cx="445.1" cy="94.3" r="0.53" fill="rgb(36,36,36)" opacity="0.42"/>
<circle cx="443.8" cy="74.7" r="0.99" fill="rgb(35,35,35)" opacity="0.67"/>
<circle cx="464.3" cy="92.5" r="0.84" fill="rgb(29,29,29)" opacity="0.37"/>
<circle cx="455.2" cy="80.6" r="0.71" fill="rgb(47,47,47)" opacity="0.76"/>
<circle cx="457.5" cy="81.7" r="0.63" fill="rgb(19,19,19)" opacity="0.75"/>
<circle cx="441.8" cy="74.2" r="1.01" fill="rgb(52,52,52)" opacity="0.40"/>
<circle cx="457.1" cy="89.5" r="0.77" fill="rgb(55,55,55)" opacity="0.77"/>
<circle cx="450.0" cy="78.9" r="0.85" fill="rgb(90,90,90)" opacity="0.67"/>
<circle cx="456.4" cy="74.7" r="0.84" fill="rgb(87,87,87)" opacity="0.46"/>
<circle cx="452.1" cy="84.0" r="0.98" fill="rgb(84,84,84)" opacity="0.83"/>
<circle cx="452.6" cy="95.9" r="0.92" fill="rgb(35,35,35)" opacity="0.57"/>
<circle cx="444.4" cy="69.2" r="0.58" fill="rgb(63,63,63)" opacity="0.36"/>
<circle cx="461.7" cy="87.6" r="0.61" fill="rgb(38,38,38)" opacity="0.62"/>
<circle cx="443.0" cy="74.6" r="0.54" fill="rgb(36,36,36)" opacity="0.58"/>
<circle cx="462.3" cy="94.1" r="0.81" fill="rgb(63,63,63)" opacity="0.66"/>
<circle cx="453.7" cy="80.8" r="1.04" fill="rgb(20,20,20)" opacity="0.77"/>
<circle cx="463.0" cy="77.6" r="0.59" fill="rgb(31,31,31)" opacity="0.35"/>
<circle cx="442.9" cy="89.6" r="0.66" fill="rgb(53,53,53)" opacity="0.45"/>
<circle cx="460.3" cy="93.9" r="0.85" fill="rgb(38,38,38)" opacity="0.78"/>
<circle cx="463.4" cy="79.3" r="1.04" fill="rgb(86,86,86)" opacity="0.40"/>
<circle cx="460.0" cy="96.6" r="0.99" fill="rgb(88,88,88)" opacity="0.77"/>
<circle cx="443.6" cy="93.8" r="0.65" fill="rgb(89,89,89)" opacity="0.36"/>
<circle cx="448.7" cy="88.0" r="0.87" fill="rgb(72,72,72)" opacity="0.76"/>
<circle cx="445.0" cy="84.7" r="0.97" fill="rgb(84,84,84)" opacity="0.61"/>
<circle cx="445.4" cy="86.4" r="0.56" fill="rgb(15,15,15)" opacity="0.63"/>
<circle cx="458.6" cy="88.7" r="1.05" fill="rgb(75,75,75)" opacity="0.75"/>
<circle cx="459.5" cy="96.3" r="0.65" fill="rgb(68,68,68)" opacity="0.80"/>
<circle cx="461.1" cy="85.8" r="0.57" fill="rgb(40,40,40)" opacity="0.66"/>
<circle cx="456.2" cy="90.6" r="0.80" fill="rgb(38,38,38)" opacity="0.77"/>
<circle cx="445.3" cy="90.2" r="0.70" fill="rgb(22,22,22)" opacity="0.58"/>
<circle cx="458.3" cy="76.5" r="0.97" fill="rgb(73,73,73)" opacity="0.52"/>
<circle cx="450.0" cy="71.7" r="0.76" fill="rgb(18,18,18)" opacity="0.61"/>
<circle cx="444.3" cy="79.5" r="1.01" fill="rgb(59,59,59)" opacity="0.46"/>
<circle cx="450.1" cy="89.4" r="0.80" fill="rgb(69,69,69)" opacity="0.78"/>
<circle cx="455.7" cy="96.5" r="0.66" fill="rgb(56,56,56)" opacity="0.77"/>
<circle cx="460.9" cy="88.9" r="0.74" fill="rgb(16,16,16)" opacity="0.65"/>
<circle cx="444.2" cy="76.8" r="0.83" fill="rgb(61,61,61)" opacity="0.60"/>
<circle cx="447.8" cy="83.0" r="0.72" fill="rgb(50,50,50)" opacity="0.72"/>
<circle cx="464.9" cy="84.0" r="0.97" fill="rgb(76,76,76)" opacity="0.42"/>
<circle cx="452.0" cy="86.8" r="0.92" fill="rgb(44,44,44)" opacity="0.84"/>
<circle cx="452.0" cy="77.7" r="0.90" fill="rgb(42,42,42)" opacity="0.65"/>
<circle cx="443.8" cy="73.4" r="0.81" fill="rgb(23,23,23)" opacity="0.68"/>
<circle cx="444.2" cy="79.0" r="0.65" fill="rgb(21,21,21)" opacity="0.43"/>
<circle cx="460.6" cy="95.3" r="0.76" fill="rgb(37,37,37)" opacity="0.78"/>
<circle cx="448.1" cy="98.3" r="0.73" fill="rgb(24,24,24)" opacity="0.33"/>
<circle cx="444.2" cy="83.1" r="0.90" fill="rgb(22,22,22)" opacity="0.55"/>
<circle cx="464.4" cy="94.2" r="0.63" fill="rgb(79,79,79)" opacity="0.46"/>
<circle cx="462.8" cy="85.0" r="0.64" fill="rgb(51,51,51)" opacity="0.57"/>
<circle cx="454.9" cy="78.5" r="0.92" fill="rgb(48,48,48)" opacity="0.68"/>
<circle cx="449.1" cy="81.9" r="0.75" fill="rgb(43,43,43)" opacity="0.74"/>
<circle cx="443.2" cy="71.2" r="0.77" fill="rgb(68,68,68)" opacity="0.48"/>
<circle cx="457.4" cy="80.0" r="0.62" fill="rgb(37,37,37)" opacity="0.70"/>
<circle cx="456.4" cy="76.2" r="0.83" fill="rgb(79,79,79)" opacity="0.55"/>
<circle cx="456.6" cy="93.4" r="0.72" fill="rgb(70,70,70)" opacity="0.79"/>
<circle cx="457.5" cy="80.4" r="0.57" fill="rgb(61,61,61)" opacity="0.71"/>
<circle cx="446.8" cy="83.4" r="0.94" fill="rgb(49,49,49)" opacity="0.68"/>
<circle cx="458.3" cy="95.8" r="0.64" fill="rgb(20,20,20)" opacity="0.84"/>
<circle cx="450.2" cy="71.9" r="0.99" fill="rgb(82,82,82)" opacity="0.60"/>
<circle cx="452.8" cy="74.7" r="0.94" fill="rgb(69,69,69)" opacity="0.48"/>
<circle cx="448.2" cy="83.8" r="0.94" fill="rgb(87,87,87)" opacity="0.75"/>
<circle cx="448.8" cy="74.3" r="0.55" fill="rgb(24,24,24)" opacity="0.79"/>
<circle cx="460.2" cy="86.3" r="0.83" fill="rgb(74,74,74)" opacity="0.70"/>
<circle cx="442.4" cy="86.4" r="0.60" fill="rgb(26,26,26)" opacity="0.45"/>
<circle cx="456.7" cy="77.9" r="0.99" fill="rgb(52,52,52)" opacity="0.63"/>
<circle cx="457.4" cy="83.6" r="0.59" fill="rgb(30,30,30)" opacity="0.78"/>
<circle cx="454.3" cy="81.6" r="0.95" fill="rgb(87,87,87)" opacity="0.79"/>
<circle cx="443.8" cy="73.6" r="0.56" fill="rgb(57,57,57)" opacity="0.68"/>
<circle cx="449.0" cy="81.8" r="0.55" fill="rgb(63,63,63)" opacity="0.74"/>
<circle cx="447.2" cy="93.4" r="0.73" fill="rgb(38,38,38)" opacity="0.57"/>
<circle cx="454.1" cy="74.7" r="0.53" fill="rgb(47,47,47)" opacity="0.49"/>
<circle cx="504.1" cy="54.8" r="0.79" fill="rgb(87,87,87)" opacity="0.83"/>
<circle cx="502.0" cy="46.4" r="0.60" fill="rgb(71,71,71)" opacity="0.76"/>
<circle cx="497.7" cy="45.6" r="1.00" fill="rgb(44,44,44)" opacity="0.45"/>
<circle cx="514.9" cy="57.4" r="0.52" fill="rgb(59,59,59)" opacity="0.46"/>
<circle cx="500.4" cy="50.9" r="0.53" fill="rgb(32,32,32)" opacity="0.68"/>
<circle cx="509.7" cy="56.3" r="0.56" fill="rgb(38,38,38)" opacity="0.77"/>
<circle cx="500.4" cy="59.5" r="0.52" fill="rgb(53,53,53)" opacity="0.67"/>
<circle cx="504.7" cy="44.9" r="1.01" fill="rgb(48,48,48)" opacity="0.57"/>
<circle cx="501.1" cy="54.4" r="0.61" fill="rgb(57,57,57)" opacity="0.77"/>
<circle cx="514.1" cy="54.0" r="1.00" fill="rgb(51,51,51)" opacity="0.50"/>
<circle cx="512.7" cy="51.6" r="0.54" fill="rgb(68,68,68)" opacity="0.46"/>
<circle cx="498.6" cy="58.7" r="0.77" fill="rgb(44,44,44)" opacity="0.63"/>
<circle cx="511.9" cy="49.6" r="0.72" fill="rgb(52,52,52)" opacity="0.33"/>
<circle cx="506.6" cy="49.3" r="0.68" fill="rgb(20,20,20)" opacity="0.73"/>
<circle cx="504.8" cy="51.1" r="0.50" fill="rgb(21,21,21)" opacity="0.69"/>
<circle cx="496.6" cy="52.0" r="0.86" fill="rgb(86,86,86)" opacity="0.45"/>
<circle cx="513.2" cy="54.5" r="0.83" fill="rgb(21,21,21)" opacity="0.58"/>
<circle cx="507.0" cy="62.3" r="0.56" fill="rgb(77,77,77)" opacity="0.51"/>
<circle cx="508.3" cy="60.6" r="0.62" fill="rgb(57,57,57)" opacity="0.63"/>
<circle cx="515.9" cy="54.3" r="0.64" fill="rgb(76,76,76)" opacity="0.38"/>
<circle cx="496.8" cy="55.5" r="0.57" fill="rgb(74,74,74)" opacity="0.59"/>
<circle cx="503.6" cy="48.9" r="0.60" fill="rgb(29,29,29)" opacity="0.84"/>
<circle cx="502.1" cy="54.1" r="0.83" fill="rgb(32,32,32)" opacity="0.79"/>
<circle cx="498.6" cy="52.9" r="0.86" fill="rgb(59,59,59)" opacity="0.61"/>
<circle cx="499.9" cy="57.0" r="1.04" fill="rgb(41,41,41)" opacity="0.74"/>
<circle cx="509.0" cy="45.1" r="0.99" fill="rgb(25,25,25)" opacity="0.34"/>
<circle cx="511.2" cy="59.5" r="1.03" fill="rgb(49,49,49)" opacity="0.60"/>
<circle cx="507.6" cy="58.1" r="0.58" fill="rgb(32,32,32)" opacity="0.79"/>
<circle cx="513.4" cy="61.0" r="0.78" fill="rgb(22,22,22)" opacity="0.37"/>
<circle cx="507.1" cy="57.8" r="0.87" fill="rgb(40,40,40)" opacity="0.81"/>
<circle cx="510.6" cy="60.3" r="0.58" fill="rgb(41,41,41)" opacity="0.58"/>
<circle cx="503.6" cy="60.7" r="0.50" fill="rgb(35,35,35)" opacity="0.66"/>
<circle cx="502.4" cy="48.3" r="1.03" fill="rgb(43,43,43)" opacity="0.85"/>
<circle cx="513.0" cy="55.7" r="0.87" fill="rgb(17,17,17)" opacity="0.61"/>
<circle cx="510.2" cy="46.7" r="0.69" fill="rgb(37,37,37)" opacity="0.37"/>
<circle cx="509.2" cy="56.0" r="0.75" fill="rgb(74,74,74)" opacity="0.78"/>
<circle cx="514.1" cy="56.2" r="0.85" fill="rgb(15,15,15)" opacity="0.54"/>
<circle cx="500.6" cy="53.6" r="0.97" fill="rgb(40,40,40)" opacity="0.73"/>
<circle cx="504.1" cy="62.3" r="0.80" fill="rgb(16,16,16)" opacity="0.52"/>
<circle cx="506.7" cy="49.8" r="0.82" fill="rgb(27,27,27)" opacity="0.70"/>
<circle cx="511.1" cy="59.0" r="0.73" fill="rgb(80,80,80)" opacity="0.63"/>
<circle cx="497.4" cy="54.4" r="0.79" fill="rgb(16,16,16)" opacity="0.61"/>
<circle cx="502.9" cy="57.8" r="0.84" fill="rgb(82,82,82)" opacity="0.81"/>
<circle cx="509.9" cy="50.7" r="1.02" fill="rgb(51,51,51)" opacity="0.53"/>
<circle cx="495.8" cy="49.7" r="0.57" fill="rgb(59,59,59)" opacity="0.40"/>
<circle cx="506.7" cy="56.4" r="0.71" fill="rgb(32,32,32)" opacity="0.84"/>
<circle cx="500.3" cy="63.7" r="0.71" fill="rgb(71,71,71)" opacity="0.27"/>
<circle cx="494.2" cy="57.4" r="0.59" fill="rgb(42,42,42)" opacity="0.39"/>
<circle cx="516.9" cy="55.1" r="1.00" fill="rgb(47,47,47)" opacity="0.30"/>
<circle cx="501.4" cy="55.9" r="0.55" fill="rgb(76,76,76)" opacity="0.80"/>
<circle cx="510.4" cy="54.3" r="0.53" fill="rgb(31,31,31)" opacity="0.71"/>
<circle cx="507.0" cy="51.9" r="0.97" fill="rgb(50,50,50)" opacity="0.70"/>
<circle cx="509.7" cy="49.3" r="0.70" fill="rgb(65,65,65)" opacity="0.47"/>
<circle cx="507.2" cy="44.3" r="0.89" fill="rgb(21,21,21)" opacity="0.36"/>
<circle cx="499.3" cy="44.8" r="0.59" fill="rgb(18,18,18)" opacity="0.47"/>
<circle cx="507.0" cy="51.9" r="0.67" fill="rgb(55,55,55)" opacity="0.70"/>
<circle cx="497.2" cy="52.3" r="0.84" fill="rgb(60,60,60)" opacity="0.50"/>
<circle cx="513.3" cy="58.6" r="0.78" fill="rgb(34,34,34)" opacity="0.53"/>
<circle cx="504.9" cy="45.3" r="0.53" fill="rgb(78,78,78)" opacity="0.62"/>
<circle cx="501.7" cy="62.6" r="0.88" fill="rgb(52,52,52)" opacity="0.45"/>
<circle cx="514.2" cy="61.6" r="0.63" fill="rgb(70,70,70)" opacity="0.27"/>
<circle cx="501.5" cy="49.4" r="0.94" fill="rgb(27,27,27)" opacity="0.81"/>
<circle cx="499.1" cy="60.7" r="0.95" fill="rgb(65,65,65)" opacity="0.54"/>
<circle cx="499.1" cy="54.7" r="0.89" fill="rgb(45,45,45)" opacity="0.71"/>
<circle cx="516.2" cy="57.9" r="0.57" fill="rgb(40,40,40)" opacity="0.34"/>
<circle cx="501.1" cy="61.5" r="1.01" fill="rgb(21,21,21)" opacity="0.54"/>
<circle cx="510.7" cy="63.3" r="0.63" fill="rgb(15,15,15)" opacity="0.30"/>
<circle cx="504.3" cy="50.4" r="0.73" fill="rgb(75,75,75)" opacity="0.76"/>
<circle cx="507.4" cy="55.6" r="0.77" fill="rgb(66,66,66)" opacity="0.83"/>
<circle cx="509.5" cy="60.4" r="0.96" fill="rgb(38,38,38)" opacity="0.61"/>
<circle cx="513.2" cy="60.3" r="0.61" fill="rgb(59,59,59)" opacity="0.44"/>
<circle cx="503.6" cy="52.9" r="0.66" fill="rgb(32,32,32)" opacity="0.76"/>
<circle cx="499.3" cy="56.3" r="0.78" fill="rgb(87,87,87)" opacity="0.73"/>
<circle cx="496.1" cy="55.2" r="1.05" fill="rgb(74,74,74)" opacity="0.55"/>
<circle cx="511.4" cy="53.3" r="0.97" fill="rgb(25,25,25)" opacity="0.63"/>
<circle cx="503.9" cy="52.5" r="0.81" fill="rgb(30,30,30)" opacity="0.74"/>
<circle cx="502.7" cy="46.1" r="0.58" fill="rgb(23,23,23)" opacity="0.74"/>
<circle cx="505.2" cy="57.1" r="0.96" fill="rgb(28,28,28)" opacity="0.84"/>
<circle cx="507.7" cy="61.6" r="0.95" fill="rgb(35,35,35)" opacity="0.56"/>
<circle cx="506.8" cy="54.7" r="0.74" fill="rgb(59,59,59)" opacity="0.82"/>
<circle cx="507.3" cy="48.6" r="0.69" fill="rgb(86,86,86)" opacity="0.70"/>
<circle cx="513.6" cy="54.0" r="0.51" fill="rgb(42,42,42)" opacity="0.53"/>
<circle cx="499.5" cy="56.0" r="0.64" fill="rgb(40,40,40)" opacity="0.73"/>
<circle cx="498.9" cy="56.9" r="0.92" fill="rgb(29,29,29)" opacity="0.70"/>
<circle cx="507.1" cy="48.3" r="0.93" fill="rgb(39,39,39)" opacity="0.71"/>
<circle cx="496.0" cy="59.2" r="0.99" fill="rgb(61,61,61)" opacity="0.46"/>
<circle cx="496.8" cy="55.5" r="0.82" fill="rgb(44,44,44)" opacity="0.59"/>
<circle cx="500.6" cy="51.2" r="1.04" fill="rgb(46,46,46)" opacity="0.66"/>
<circle cx="502.3" cy="46.6" r="0.63" fill="rgb(18,18,18)" opacity="0.77"/>
<circle cx="499.8" cy="55.4" r="1.02" fill="rgb(28,28,28)" opacity="0.74"/>
<circle cx="499.8" cy="55.4" r="0.76" fill="rgb(73,73,73)" opacity="0.74"/>
<circle cx="509.6" cy="60.8" r="0.60" fill="rgb(25,25,25)" opacity="0.58"/>
<circle cx="510.4" cy="55.6" r="0.76" fill="rgb(76,76,76)" opacity="0.74"/>
<circle cx="496.0" cy="53.9" r="0.62" fill="rgb(82,82,82)" opacity="0.51"/>
<circle cx="507.9" cy="54.8" r="0.67" fill="rgb(51,51,51)" opacity="0.81"/>
<circle cx="506.2" cy="50.7" r="0.77" fill="rgb(79,79,79)" opacity="0.67"/>
<circle cx="507.3" cy="58.4" r="1.05" fill="rgb(70,70,70)" opacity="0.78"/>
<circle cx="504.7" cy="61.0" r="0.87" fill="rgb(61,61,61)" opacity="0.64"/>
<circle cx="504.5" cy="46.6" r="0.66" fill="rgb(60,60,60)" opacity="0.76"/>
<circle cx="506.7" cy="47.8" r="0.50" fill="rgb(72,72,72)" opacity="0.73"/>
<circle cx="503.7" cy="56.7" r="0.97" fill="rgb(35,35,35)" opacity="0.84"/>
<circle cx="501.7" cy="49.1" r="1.04" fill="rgb(84,84,84)" opacity="0.83"/>
<circle cx="506.6" cy="52.1" r="0.69" fill="rgb(49,49,49)" opacity="0.72"/>
<circle cx="505.4" cy="55.7" r="0.77" fill="rgb(45,45,45)" opacity="0.85"/>
<circle cx="499.7" cy="46.4" r="0.63" fill="rgb(71,71,71)" opacity="0.68"/>
<circle cx="501.3" cy="62.1" r="0.85" fill="rgb(75,75,75)" opacity="0.49"/>
<circle cx="508.0" cy="57.7" r="0.64" fill="rgb(61,61,61)" opacity="0.79"/>
<circle cx="510.3" cy="52.4" r="0.83" fill="rgb(47,47,47)" opacity="0.63"/>
<circle cx="502.3" cy="52.1" r="0.74" fill="rgb(85,85,85)" opacity="0.70"/>
<circle cx="498.4" cy="46.3" r="1.04" fill="rgb(60,60,60)" opacity="0.57"/>
<circle cx="504.9" cy="61.1" r="0.68" fill="rgb(36,36,36)" opacity="0.63"/>
<circle cx="509.6" cy="51.4" r="0.82" fill="rgb(45,45,45)" opacity="0.60"/>
<circle cx="515.3" cy="57.5" r="0.70" fill="rgb(62,62,62)" opacity="0.43"/>
<circle cx="510.5" cy="51.9" r="0.61" fill="rgb(43,43,43)" opacity="0.60"/>
<circle cx="504.8" cy="60.3" r="0.53" fill="rgb(90,90,90)" opacity="0.70"/>
<circle cx="502.4" cy="45.2" r="0.64" fill="rgb(90,90,90)" opacity="0.63"/>
<circle cx="498.5" cy="53.4" r="0.64" fill="rgb(37,37,37)" opacity="0.63"/>
<circle cx="506.4" cy="48.0" r="0.89" fill="rgb(40,40,40)" opacity="0.75"/>
<circle cx="513.5" cy="59.9" r="0.97" fill="rgb(28,28,28)" opacity="0.45"/>
<circle cx="508.1" cy="48.4" r="0.74" fill="rgb(62,62,62)" opacity="0.64"/>
<circle cx="503.8" cy="59.5" r="0.65" fill="rgb(66,66,66)" opacity="0.74"/>
<circle cx="502.6" cy="59.6" r="0.67" fill="rgb(67,67,67)" opacity="0.72"/>
<circle cx="505.6" cy="50.7" r="0.50" fill="rgb(60,60,60)" opacity="0.70"/>
<circle cx="504.5" cy="54.0" r="0.64" fill="rgb(89,89,89)" opacity="0.82"/>
<circle cx="502.6" cy="48.3" r="0.89" fill="rgb(70,70,70)" opacity="0.85"/>
<circle cx="506.0" cy="54.2" r="0.77" fill="rgb(28,28,28)" opacity="0.82"/>
<circle cx="507.6" cy="59.2" r="0.54" fill="rgb(76,76,76)" opacity="0.74"/>
<circle cx="501.4" cy="55.3" r="0.62" fill="rgb(65,65,65)" opacity="0.80"/>
<circle cx="507.6" cy="54.3" r="0.92" fill="rgb(23,23,23)" opacity="0.80"/>
<circle cx="499.7" cy="59.9" r="0.85" fill="rgb(68,68,68)" opacity="0.61"/>
<circle cx="506.6" cy="56.9" r="0.70" fill="rgb(83,83,83)" opacity="0.83"/>
<circle cx="505.7" cy="55.6" r="0.64" fill="rgb(51,51,51)" opacity="0.85"/>
<circle cx="507.8" cy="54.8" r="1.00" fill="rgb(69,69,69)" opacity="0.81"/>
<circle cx="496.8" cy="62.4" r="0.68" fill="rgb(32,32,32)" opacity="0.26"/>
<circle cx="500.3" cy="52.6" r="0.92" fill="rgb(17,17,17)" opacity="0.67"/>
<circle cx="503.7" cy="52.6" r="0.61" fill="rgb(55,55,55)" opacity="0.75"/>
<circle cx="499.2" cy="48.0" r="0.70" fill="rgb(69,69,69)" opacity="0.73"/>
<circle cx="504.4" cy="63.5" r="0.94" fill="rgb(24,24,24)" opacity="0.39"/>
<circle cx="513.1" cy="60.9" r="1.00" fill="rgb(79,79,79)" opacity="0.40"/>
<circle cx="507.5" cy="57.1" r="1.02" fill="rgb(76,76,76)" opacity="0.81"/>
<circle cx="497.0" cy="49.3" r="0.87" fill="rgb(62,62,62)" opacity="0.54"/>
<circle cx="504.2" cy="47.4" r="0.97" fill="rgb(32,32,32)" opacity="0.82"/>
<circle cx="506.3" cy="48.5" r="0.52" fill="rgb(74,74,74)" opacity="0.76"/>
<circle cx="506.3" cy="52.0" r="0.57" fill="rgb(39,39,39)" opacity="0.71"/>
<circle cx="501.2" cy="61.2" r="0.88" fill="rgb(70,70,70)" opacity="0.57"/>
<circle cx="497.0" cy="58.7" r="0.70" fill="rgb(64,64,64)" opacity="0.54"/>
<circle cx="498.7" cy="49.5" r="0.72" fill="rgb(35,35,35)" opacity="0.67"/>
<circle cx="502.8" cy="55.7" r="0.81" fill="rgb(61,61,61)" opacity="0.83"/>
<circle cx="504.7" cy="60.1" r="0.85" fill="rgb(21,21,21)" opacity="0.71"/>
<circle cx="496.2" cy="57.3" r="0.73" fill="rgb(34,34,34)" opacity="0.54"/>
<circle cx="498.6" cy="54.5" r="0.95" fill="rgb(25,25,25)" opacity="0.67"/>
<circle cx="508.2" cy="51.1" r="0.66" fill="rgb(68,68,68)" opacity="0.61"/>
<circle cx="505.6" cy="59.3" r="1.01" fill="rgb(27,27,27)" opacity="0.76"/>
<circle cx="504.6" cy="54.5" r="0.66" fill="rgb(35,35,35)" opacity="0.83"/>
<circle cx="512.1" cy="53.9" r="0.66" fill="rgb(62,62,62)" opacity="0.62"/>
<circle cx="508.9" cy="54.4" r="0.75" fill="rgb(24,24,24)" opacity="0.77"/>
<circle cx="503.4" cy="45.9" r="0.76" fill="rgb(33,33,33)" opacity="0.72"/>
<circle cx="496.8" cy="56.8" r="0.52" fill="rgb(83,83,83)" opacity="0.59"/>
<circle cx="504.5" cy="49.2" r="0.91" fill="rgb(81,81,81)" opacity="0.82"/>
<circle cx="501.0" cy="53.1" r="0.71" fill="rgb(19,19,19)" opacity="0.72"/>
<circle cx="503.7" cy="57.5" r="0.74" fill="rgb(77,77,77)" opacity="0.82"/>
<circle cx="505.7" cy="44.2" r="1.04" fill="rgb(36,36,36)" opacity="0.43"/>
<circle cx="500.8" cy="54.1" r="0.71" fill="rgb(64,64,64)" opacity="0.75"/>
<circle cx="512.1" cy="49.2" r="0.67" fill="rgb(37,37,37)" opacity="0.27"/>
<circle cx="513.6" cy="58.3" r="0.76" fill="rgb(38,38,38)" opacity="0.53"/>
<circle cx="496.8" cy="47.5" r="0.60" fill="rgb(78,78,78)" opacity="0.52"/>
<circle cx="508.6" cy="57.3" r="1.01" fill="rgb(69,69,69)" opacity="0.79"/>
<circle cx="494.6" cy="57.7" r="0.91" fill="rgb(38,38,38)" opacity="0.42"/>
<circle cx="513.8" cy="56.5" r="0.92" fill="rgb(25,25,25)" opacity="0.55"/>
<circle cx="502.3" cy="53.3" r="1.04" fill="rgb(55,55,55)" opacity="0.76"/>
<circle cx="513.5" cy="58.9" r="0.92" fill="rgb(43,43,43)" opacity="0.50"/>
<circle cx="503.7" cy="56.7" r="0.74" fill="rgb(90,90,90)" opacity="0.84"/>
<circle cx="514.3" cy="59.6" r="0.84" fill="rgb(74,74,74)" opacity="0.42"/>
<circle cx="509.2" cy="52.4" r="1.03" fill="rgb(50,50,50)" opacity="0.68"/>
<circle cx="504.4" cy="61.5" r="0.75" fill="rgb(60,60,60)" opacity="0.60"/>
<circle cx="507.7" cy="56.0" r="0.77" fill="rgb(24,24,24)" opacity="0.82"/>
<circle cx="503.5" cy="44.9" r="0.59" fill="rgb(86,86,86)" opacity="0.59"/>
<circle cx="504.6" cy="50.9" r="0.61" fill="rgb(50,50,50)" opacity="0.72"/>
<circle cx="508.3" cy="56.2" r="0.94" fill="rgb(53,53,53)" opacity="0.81"/>
<circle cx="501.5" cy="48.7" r="1.03" fill="rgb(31,31,31)" opacity="0.83"/>
<circle cx="498.6" cy="51.2" r="0.50" fill="rgb(88,88,88)" opacity="0.55"/>
<circle cx="501.0" cy="57.6" r="0.90" fill="rgb(25,25,25)" opacity="0.77"/>
<circle cx="504.1" cy="46.6" r="0.70" fill="rgb(82,82,82)" opacity="0.77"/>
<circle cx="499.8" cy="45.6" r="0.85" fill="rgb(42,42,42)" opacity="0.60"/>
<circle cx="506.7" cy="46.7" r="0.72" fill="rgb(25,25,25)" opacity="0.67"/>
<circle cx="502.5" cy="58.5" r="0.92" fill="rgb(66,66,66)" opacity="0.77"/>
<circle cx="507.4" cy="55.6" r="0.93" fill="rgb(59,59,59)" opacity="0.83"/>
<circle cx="506.5" cy="63.3" r="0.95" fill="rgb(76,76,76)" opacity="0.41"/>
<circle cx="515.8" cy="56.4" r="0.58" fill="rgb(73,73,73)" opacity="0.40"/>
<circle cx="510.8" cy="50.7" r="0.78" fill="rgb(65,65,65)" opacity="0.49"/>
<circle cx="506.0" cy="47.6" r="0.72" fill="rgb(54,54,54)" opacity="0.76"/>
<circle cx="497.0" cy="56.1" r="0.64" fill="rgb(84,84,84)" opacity="0.61"/>
<circle cx="508.2" cy="55.3" r="0.63" fill="rgb(39,39,39)" opacity="0.81"/>
<circle cx="512.7" cy="61.4" r="0.87" fill="rgb(54,54,54)" opacity="0.39"/>
<circle cx="506.5" cy="53.9" r="0.72" fill="rgb(44,44,44)" opacity="0.80"/>
<circle cx="504.6" cy="48.5" r="0.55" fill="rgb(74,74,74)" opacity="0.83"/>
<circle cx="502.1" cy="50.8" r="0.96" fill="rgb(23,23,23)" opacity="0.74"/>
<circle cx="500.5" cy="58.8" r="0.77" fill="rgb(40,40,40)" opacity="0.71"/>
<circle cx="501.3" cy="46.7" r="0.66" fill="rgb(29,29,29)" opacity="0.76"/>
<circle cx="493.5" cy="54.3" r="0.88" fill="rgb(62,62,62)" opacity="0.33"/>
<circle cx="507.4" cy="57.2" r="0.70" fill="rgb(83,83,83)" opacity="0.82"/>
<circle cx="505.7" cy="48.1" r="0.67" fill="rgb(88,88,88)" opacity="0.79"/>
<circle cx="510.4" cy="56.7" r="0.60" fill="rgb(41,41,41)" opacity="0.74"/>
<circle cx="500.7" cy="54.6" r="0.78" fill="rgb(35,35,35)" opacity="0.76"/>
<circle cx="503.4" cy="60.5" r="1.04" fill="rgb(24,24,24)" opacity="0.67"/>
<circle cx="507.3" cy="59.7" r="0.90" fill="rgb(35,35,35)" opacity="0.72"/>
<circle cx="499.8" cy="56.2" r="0.78" fill="rgb(52,52,52)" opacity="0.75"/>
<circle cx="500.1" cy="46.3" r="0.55" fill="rgb(81,81,81)" opacity="0.69"/>
<circle cx="510.6" cy="49.0" r="0.66" fill="rgb(37,37,37)" opacity="0.36"/>
<circle cx="509.5" cy="56.1" r="0.55" fill="rgb(22,22,22)" opacity="0.77"/>
<circle cx="509.6" cy="60.5" r="0.52" fill="rgb(80,80,80)" opacity="0.60"/>
<circle cx="507.6" cy="61.9" r="0.53" fill="rgb(79,79,79)" opacity="0.54"/>
<circle cx="512.2" cy="55.1" r="0.83" fill="rgb(21,21,21)" opacity="0.64"/>
<circle cx="509.7" cy="61.9" r="0.73" fill="rgb(38,38,38)" opacity="0.48"/>
<circle cx="500.8" cy="46.7" r="1.02" fill="rgb(23,23,23)" opacity="0.74"/>
<circle cx="515.2" cy="88.9" r="0.60" fill="rgb(61,61,61)" opacity="0.38"/>
<circle cx="501.1" cy="82.6" r="0.55" fill="rgb(42,42,42)" opacity="0.50"/>
<circle cx="513.0" cy="70.8" r="0.86" fill="rgb(60,60,60)" opacity="0.66"/>
<circle cx="508.9" cy="80.0" r="0.79" fill="rgb(44,44,44)" opacity="0.82"/>
<circle cx="500.3" cy="78.8" r="0.99" fill="rgb(51,51,51)" opacity="0.52"/>
<circle cx="512.0" cy="76.6" r="0.68" fill="rgb(66,66,66)" opacity="0.84"/>
<circle cx="507.3" cy="70.5" r="0.77" fill="rgb(68,68,68)" opacity="0.61"/>
<circle cx="515.4" cy="81.0" r="0.82" fill="rgb(42,42,42)" opacity="0.76"/>
<circle cx="504.0" cy="75.6" r="0.90" fill="rgb(25,25,25)" opacity="0.69"/>
<circle cx="502.7" cy="67.8" r="0.61" fill="rgb(18,18,18)" opacity="0.29"/>
<circle cx="513.5" cy="66.1" r="0.87" fill="rgb(48,48,48)" opacity="0.33"/>
<circle cx="506.1" cy="73.4" r="0.98" fill="rgb(16,16,16)" opacity="0.71"/>
<circle cx="502.7" cy="73.3" r="0.56" fill="rgb(57,57,57)" opacity="0.58"/>
<circle cx="509.5" cy="70.7" r="0.89" fill="rgb(31,31,31)" opacity="0.66"/>
<circle cx="525.0" cy="81.5" r="0.72" fill="rgb(21,21,21)" opacity="0.39"/>
<circle cx="499.7" cy="72.2" r="0.63" fill="rgb(82,82,82)" opacity="0.37"/>
<circle cx="512.4" cy="77.7" r="0.72" fill="rgb(15,15,15)" opacity="0.84"/>
<circle cx="520.6" cy="77.5" r="0.92" fill="rgb(48,48,48)" opacity="0.59"/>
<circle cx="511.3" cy="86.5" r="0.74" fill="rgb(67,67,67)" opacity="0.60"/>
<circle cx="522.1" cy="83.0" r="0.80" fill="rgb(48,48,48)" opacity="0.77"/>
<circle cx="517.7" cy="79.7" r="0.70" fill="rgb(55,55,55)" opacity="0.71"/>
<circle cx="505.7" cy="69.0" r="0.93" fill="rgb(53,53,53)" opacity="0.49"/>
<circle cx="517.5" cy="73.6" r="0.57" fill="rgb(26,26,26)" opacity="0.66"/>
<circle cx="509.4" cy="74.9" r="0.85" fill="rgb(55,55,55)" opacity="0.81"/>
<circle cx="508.5" cy="72.6" r="1.05" fill="rgb(89,89,89)" opacity="0.73"/>
<circle cx="507.5" cy="71.3" r="0.61" fill="rgb(83,83,83)" opacity="0.66"/>
<circle cx="507.0" cy="67.0" r="0.74" fill="rgb(35,35,35)" opacity="0.38"/>
<circle cx="501.8" cy="71.4" r="0.53" fill="rgb(89,89,89)" opacity="0.46"/>
<circle cx="503.3" cy="85.6" r="0.55" fill="rgb(57,57,57)" opacity="0.48"/>
<circle cx="512.0" cy="71.0" r="0.84" fill="rgb(63,63,63)" opacity="0.67"/>
<circle cx="522.0" cy="72.1" r="1.04" fill="rgb(44,44,44)" opacity="0.38"/>
<circle cx="516.9" cy="77.2" r="0.84" fill="rgb(49,49,49)" opacity="0.75"/>
<circle cx="504.1" cy="82.1" r="0.55" fill="rgb(82,82,82)" opacity="0.66"/>
<circle cx="520.1" cy="69.8" r="0.63" fill="rgb(52,52,52)" opacity="0.38"/>
<circle cx="507.3" cy="90.2" r="0.52" fill="rgb(61,61,61)" opacity="0.29"/>
<circle cx="517.6" cy="86.3" r="0.84" fill="rgb(83,83,83)" opacity="0.50"/>
<circle cx="508.0" cy="72.1" r="0.97" fill="rgb(44,44,44)" opacity="0.70"/>
<circle cx="506.2" cy="77.8" r="1.04" fill="rgb(78,78,78)" opacity="0.78"/>
<circle cx="519.6" cy="82.4" r="0.92" fill="rgb(41,41,41)" opacity="0.84"/>
<circle cx="520.3" cy="86.6" r="0.69" fill="rgb(20,20,20)" opacity="0.55"/>
<circle cx="510.5" cy="70.7" r="0.50" fill="rgb(30,30,30)" opacity="0.66"/>
<circle cx="503.7" cy="84.3" r="1.03" fill="rgb(65,65,65)" opacity="0.56"/>
<circle cx="519.0" cy="85.5" r="0.91" fill="rgb(69,69,69)" opacity="0.69"/>
<circle cx="515.7" cy="84.1" r="1.01" fill="rgb(75,75,75)" opacity="0.66"/>
<circle cx="520.0" cy="81.9" r="0.94" fill="rgb(29,29,29)" opacity="0.82"/>
<circle cx="524.3" cy="84.4" r="0.97" fill="rgb(38,38,38)" opacity="0.50"/>
<circle cx="518.8" cy="69.3" r="0.84" fill="rgb(62,62,62)" opacity="0.41"/>
<circle cx="503.4" cy="87.0" r="0.96" fill="rgb(19,19,19)" opacity="0.40"/>
<circle cx="520.4" cy="73.9" r="0.63" fill="rgb(23,23,23)" opacity="0.54"/>
<circle cx="521.5" cy="87.3" r="0.70" fill="rgb(88,88,88)" opacity="0.37"/>
<circle cx="519.1" cy="82.1" r="0.84" fill="rgb(75,75,75)" opacity="0.82"/>
<circle cx="516.3" cy="71.7" r="0.72" fill="rgb(55,55,55)" opacity="0.63"/>
<circle cx="502.2" cy="68.6" r="0.83" fill="rgb(64,64,64)" opacity="0.32"/>
<circle cx="510.6" cy="76.8" r="0.91" fill="rgb(35,35,35)" opacity="0.84"/>
<circle cx="515.3" cy="82.8" r="0.97" fill="rgb(37,37,37)" opacity="0.72"/>
<circle cx="502.6" cy="79.1" r="0.93" fill="rgb(41,41,41)" opacity="0.65"/>
<circle cx="503.4" cy="69.3" r="0.70" fill="rgb(73,73,73)" opacity="0.42"/>
<circle cx="511.7" cy="75.7" r="0.78" fill="rgb(67,67,67)" opacity="0.83"/>
<circle cx="515.5" cy="82.2" r="0.56" fill="rgb(32,32,32)" opacity="0.73"/>
<circle cx="518.0" cy="70.1" r="0.50" fill="rgb(89,89,89)" opacity="0.49"/>
<circle cx="511.4" cy="79.9" r="0.68" fill="rgb(78,78,78)" opacity="0.84"/>
<circle cx="513.5" cy="81.9" r="0.51" fill="rgb(71,71,71)" opacity="0.78"/>
<circle cx="512.7" cy="81.3" r="0.69" fill="rgb(43,43,43)" opacity="0.80"/>
<circle cx="508.9" cy="83.5" r="0.84" fill="rgb(65,65,65)" opacity="0.73"/>
<circle cx="511.6" cy="72.6" r="0.68" fill="rgb(71,71,71)" opacity="0.74"/>
<circle cx="512.9" cy="71.6" r="0.79" fill="rgb(79,79,79)" opacity="0.69"/>
<circle cx="508.3" cy="72.9" r="0.71" fill="rgb(71,71,71)" opacity="0.74"/>
<circle cx="517.6" cy="82.3" r="0.90" fill="rgb(80,80,80)" opacity="0.74"/>
<circle cx="519.0" cy="74.7" r="0.92" fill="rgb(83,83,83)" opacity="0.63"/>
<circle cx="508.0" cy="76.1" r="0.50" fill="rgb(41,41,41)" opacity="0.81"/>
<circle cx="515.6" cy="78.6" r="0.69" fill="rgb(71,71,71)" opacity="0.79"/>
<circle cx="501.8" cy="80.8" r="1.03" fill="rgb(83,83,83)" opacity="0.58"/>
<circle cx="507.7" cy="79.9" r="0.85" fill="rgb(53,53,53)" opacity="0.81"/>
<circle cx="509.9" cy="82.7" r="0.80" fill="rgb(52,52,52)" opacity="0.77"/>
<circle cx="525.4" cy="78.1" r="0.64" fill="rgb(59,59,59)" opacity="0.26"/>
<circle cx="515.2" cy="74.4" r="0.95" fill="rgb(31,31,31)" opacity="0.75"/>
<circle cx="516.4" cy="72.0" r="0.56" fill="rgb(53,53,53)" opacity="0.64"/>
<circle cx="507.4" cy="66.0" r="0.90" fill="rgb(61,61,61)" opacity="0.31"/>
<circle cx="521.4" cy="70.3" r="0.53" fill="rgb(75,75,75)" opacity="0.34"/>
<circle cx="514.0" cy="77.6" r="1.02" fill="rgb(29,29,29)" opacity="0.82"/>
<circle cx="513.8" cy="76.8" r="0.54" fill="rgb(63,63,63)" opacity="0.82"/>
<circle cx="508.0" cy="83.1" r="0.92" fill="rgb(78,78,78)" opacity="0.73"/>
<circle cx="504.7" cy="68.9" r="0.90" fill="rgb(81,81,81)" opacity="0.45"/>
<circle cx="507.1" cy="76.6" r="0.63" fill="rgb(45,45,45)" opacity="0.80"/>
<circle cx="502.6" cy="84.2" r="0.63" fill="rgb(74,74,74)" opacity="0.51"/>
<circle cx="506.1" cy="76.0" r="1.04" fill="rgb(83,83,83)" opacity="0.77"/>
<circle cx="504.2" cy="72.7" r="1.01" fill="rgb(15,15,15)" opacity="0.62"/>
<circle cx="513.1" cy="77.4" r="0.71" fill="rgb(32,32,32)" opacity="0.84"/>
<circle cx="506.9" cy="88.0" r="0.97" fill="rgb(44,44,44)" opacity="0.45"/>
<circle cx="518.2" cy="72.8" r="1.00" fill="rgb(86,86,86)" opacity="0.61"/>
<circle cx="515.1" cy="82.9" r="0.76" fill="rgb(42,42,42)" opacity="0.72"/>
<circle cx="504.0" cy="84.9" r="0.97" fill="rgb(74,74,74)" opacity="0.54"/>
<circle cx="522.9" cy="84.8" r="0.94" fill="rgb(18,18,18)" opacity="0.63"/>
<circle cx="507.8" cy="80.4" r="0.85" fill="rgb(49,49,49)" opacity="0.80"/>
<circle cx="519.0" cy="72.5" r="1.01" fill="rgb(76,76,76)" opacity="0.56"/>
<circle cx="522.5" cy="82.9" r="0.78" fill="rgb(61,61,61)" opacity="0.74"/>
<circle cx="500.1" cy="78.7" r="0.97" fill="rgb(43,43,43)" opacity="0.51"/>
<circle cx="504.1" cy="79.8" r="0.76" fill="rgb(24,24,24)" opacity="0.70"/>
<circle cx="513.6" cy="78.8" r="0.79" fill="rgb(69,69,69)" opacity="0.83"/>
<circle cx="515.9" cy="71.8" r="1.05" fill="rgb(16,16,16)" opacity="0.65"/>
<circle cx="513.1" cy="83.8" r="0.52" fill="rgb(70,70,70)" opacity="0.72"/>
<circle cx="522.7" cy="83.7" r="0.65" fill="rgb(83,83,83)" opacity="0.72"/>
<circle cx="515.7" cy="84.9" r="0.89" fill="rgb(29,29,29)" opacity="0.62"/>
<circle cx="513.8" cy="81.2" r="0.70" fill="rgb(40,40,40)" opacity="0.79"/>
<circle cx="521.0" cy="86.5" r="0.52" fill="rgb(84,84,84)" opacity="0.55"/>
<circle cx="514.9" cy="69.3" r="0.84" fill="rgb(86,86,86)" opacity="0.54"/>
<circle cx="525.4" cy="82.8" r="0.76" fill="rgb(36,36,36)" opacity="0.36"/>
<circle cx="510.5" cy="70.7" r="0.91" fill="rgb(63,63,63)" opacity="0.66"/>
<circle cx="518.3" cy="75.4" r="0.94" fill="rgb(53,53,53)" opacity="0.68"/>
<circle cx="514.3" cy="75.7" r="0.53" fill="rgb(63,63,63)" opacity="0.80"/>
<circle cx="515.4" cy="86.1" r="0.70" fill="rgb(22,22,22)" opacity="0.56"/>
<circle cx="503.7" cy="80.9" r="0.87" fill="rgb(17,17,17)" opacity="0.67"/>
<circle cx="499.5" cy="76.9" r="0.93" fill="rgb(81,81,81)" opacity="0.47"/>
<circle cx="517.0" cy="78.2" r="0.92" fill="rgb(19,19,19)" opacity="0.75"/>
<circle cx="510.8" cy="68.1" r="0.59" fill="rgb(90,90,90)" opacity="0.51"/>
<circle cx="510.1" cy="86.7" r="0.69" fill="rgb(89,89,89)" opacity="0.58"/>
<circle cx="507.2" cy="83.2" r="0.89" fill="rgb(51,51,51)" opacity="0.72"/>
<circle cx="509.6" cy="69.6" r="0.95" fill="rgb(17,17,17)" opacity="0.60"/>
<circle cx="516.9" cy="71.4" r="0.70" fill="rgb(18,18,18)" opacity="0.60"/>
<circle cx="521.0" cy="72.5" r="0.70" fill="rgb(37,37,37)" opacity="0.46"/>
<circle cx="523.1" cy="84.2" r="1.01" fill="rgb(50,50,50)" opacity="0.66"/>
<circle cx="501.4" cy="70.5" r="0.91" fill="rgb(56,56,56)" opacity="0.39"/>
<circle cx="522.5" cy="78.6" r="0.57" fill="rgb(89,89,89)" opacity="0.47"/>
<circle cx="505.7" cy="72.6" r="0.74" fill="rgb(35,35,35)" opacity="0.67"/>
<circle cx="517.9" cy="78.2" r="0.79" fill="rgb(57,57,57)" opacity="0.72"/>
<circle cx="511.5" cy="74.2" r="0.91" fill="rgb(38,38,38)" opacity="0.80"/>
<circle cx="506.3" cy="72.7" r="0.71" fill="rgb(19,19,19)" opacity="0.69"/>
<circle cx="507.3" cy="75.7" r="0.52" fill="rgb(31,31,31)" opacity="0.79"/>
<circle cx="516.5" cy="74.7" r="0.69" fill="rgb(61,61,61)" opacity="0.73"/>
<circle cx="503.2" cy="71.4" r="0.80" fill="rgb(36,36,36)" opacity="0.52"/>
<circle cx="511.9" cy="83.0" r="0.93" fill="rgb(24,24,24)" opacity="0.76"/>
<circle cx="509.0" cy="75.0" r="0.63" fill="rgb(31,31,31)" opacity="0.81"/>
<circle cx="511.4" cy="66.6" r="0.58" fill="rgb(25,25,25)" opacity="0.39"/>
<circle cx="502.0" cy="77.0" r="0.93" fill="rgb(24,24,24)" opacity="0.62"/>
<circle cx="501.8" cy="78.0" r="0.98" fill="rgb(77,77,77)" opacity="0.61"/>
<circle cx="521.7" cy="75.0" r="0.78" fill="rgb(47,47,47)" opacity="0.50"/>
<circle cx="511.2" cy="81.5" r="1.04" fill="rgb(65,65,65)" opacity="0.81"/>
<circle cx="516.6" cy="85.8" r="0.69" fill="rgb(40,40,40)" opacity="0.55"/>
<circle cx="505.7" cy="70.7" r="0.54" fill="rgb(39,39,39)" opacity="0.58"/>
<circle cx="520.4" cy="79.9" r="0.81" fill="rgb(58,58,58)" opacity="0.62"/>
<circle cx="516.7" cy="83.7" r="0.59" fill="rgb(61,61,61)" opacity="0.66"/>
<circle cx="503.7" cy="85.2" r="1.01" fill="rgb(67,67,67)" opacity="0.52"/>
<circle cx="502.4" cy="82.1" r="0.83" fill="rgb(19,19,19)" opacity="0.58"/>
<circle cx="509.0" cy="77.1" r="0.60" fill="rgb(18,18,18)" opacity="0.84"/>
<circle cx="505.1" cy="73.2" r="0.83" fill="rgb(85,85,85)" opacity="0.67"/>
<circle cx="518.6" cy="75.4" r="0.97" fill="rgb(37,37,37)" opacity="0.66"/>
<circle cx="507.4" cy="75.5" r="0.51" fill="rgb(40,40,40)" opacity="0.79"/>
<circle cx="507.0" cy="81.4" r="0.50" fill="rgb(37,37,37)" opacity="0.76"/>
<circle cx="512.0" cy="79.9" r="0.99" fill="rgb(84,84,84)" opacity="0.83"/>
<circle cx="509.3" cy="85.3" r="0.96" fill="rgb(64,64,64)" opacity="0.66"/>
<circle cx="506.1" cy="70.4" r="0.61" fill="rgb(78,78,78)" opacity="0.58"/>
<circle cx="511.7" cy="84.1" r="0.77" fill="rgb(27,27,27)" opacity="0.72"/>
<circle cx="518.9" cy="79.6" r="0.70" fill="rgb(37,37,37)" opacity="0.66"/>
<circle cx="525.5" cy="84.5" r="0.84" fill="rgb(74,74,74)" opacity="0.29"/>
<circle cx="520.4" cy="85.1" r="1.04" fill="rgb(83,83,83)" opacity="0.74"/>
<circle cx="515.5" cy="83.7" r="0.87" fill="rgb(73,73,73)" opacity="0.68"/>
<circle cx="497.5" cy="75.4" r="0.60" fill="rgb(54,54,54)" opacity="0.31"/>
<circle cx="512.0" cy="81.6" r="0.96" fill="rgb(49,49,49)" opacity="0.80"/>
<circle cx="516.6" cy="76.3" r="0.60" fill="rgb(70,70,70)" opacity="0.75"/>
<circle cx="510.4" cy="78.5" r="0.81" fill="rgb(82,82,82)" opacity="0.85"/>
<circle cx="504.5" cy="72.2" r="0.86" fill="rgb(41,41,41)" opacity="0.61"/>
<circle cx="512.8" cy="83.1" r="0.90" fill="rgb(47,47,47)" opacity="0.75"/>
<circle cx="511.5" cy="67.9" r="0.83" fill="rgb(18,18,18)" opacity="0.49"/>
<circle cx="509.1" cy="71.0" r="0.74" fill="rgb(27,27,27)" opacity="0.67"/>
<circle cx="505.3" cy="73.6" r="0.74" fill="rgb(35,35,35)" opacity="0.69"/>
<circle cx="509.5" cy="77.3" r="0.63" fill="rgb(19,19,19)" opacity="0.84"/>
<circle cx="512.2" cy="78.7" r="1.03" fill="rgb(24,24,24)" opacity="0.84"/>
<circle cx="505.0" cy="86.7" r="0.63" fill="rgb(37,37,37)" opacity="0.48"/>
<circle cx="514.5" cy="82.5" r="1.04" fill="rgb(49,49,49)" opacity="0.74"/>
<circle cx="516.1" cy="89.9" r="0.52" fill="rgb(51,51,51)" opacity="0.27"/>
<circle cx="519.9" cy="79.1" r="1.04" fill="rgb(22,22,22)" opacity="0.62"/>
<circle cx="518.8" cy="83.3" r="0.54" fill="rgb(29,29,29)" opacity="0.82"/>
<circle cx="509.6" cy="70.4" r="0.54" fill="rgb(35,35,35)" opacity="0.64"/>
<circle cx="524.0" cy="84.2" r="0.75" fill="rgb(29,29,29)" opacity="0.55"/>
<circle cx="511.3" cy="73.2" r="0.76" fill="rgb(43,43,43)" opacity="0.77"/>
<circle cx="511.7" cy="85.2" r="0.92" fill="rgb(34,34,34)" opacity="0.67"/>
<circle cx="516.9" cy="74.3" r="0.77" fill="rgb(36,36,36)" opacity="0.70"/>
<circle cx="521.1" cy="82.7" r="0.55" fill="rgb(44,44,44)" opacity="0.83"/>
<circle cx="507.2" cy="75.6" r="0.60" fill="rgb(44,44,44)" opacity="0.79"/>
<circle cx="508.3" cy="79.5" r="0.80" fill="rgb(64,64,64)" opacity="0.82"/>
<circle cx="515.5" cy="67.0" r="0.93" fill="rgb(74,74,74)" opacity="0.37"/>
<circle cx="507.0" cy="67.6" r="0.72" fill="rgb(41,41,41)" opacity="0.42"/>
<circle cx="523.8" cy="80.6" r="0.57" fill="rgb(35,35,35)" opacity="0.47"/>
<circle cx="501.0" cy="71.2" r="0.52" fill="rgb(50,50,50)" opacity="0.40"/>
<circle cx="501.3" cy="84.2" r="0.75" fill="rgb(33,33,33)" opacity="0.44"/>
<circle cx="510.8" cy="76.8" r="0.67" fill="rgb(87,87,87)" opacity="0.85"/>
<circle cx="501.6" cy="86.0" r="0.77" fill="rgb(28,28,28)" opacity="0.38"/>
<circle cx="509.2" cy="83.3" r="0.77" fill="rgb(78,78,78)" opacity="0.74"/>
<circle cx="504.9" cy="85.9" r="0.75" fill="rgb(54,54,54)" opacity="0.52"/>
<circle cx="515.8" cy="82.6" r="0.90" fill="rgb(32,32,32)" opacity="0.71"/>
<circle cx="511.0" cy="71.9" r="0.99" fill="rgb(80,80,80)" opacity="0.72"/>
<circle cx="523.7" cy="86.1" r="0.57" fill="rgb(80,80,80)" opacity="0.39"/>
<circle cx="518.5" cy="89.1" r="0.88" fill="rgb(37,37,37)" opacity="0.26"/>
<circle cx="512.6" cy="76.5" r="0.57" fill="rgb(75,75,75)" opacity="0.84"/>
<circle cx="519.1" cy="80.6" r="0.59" fill="rgb(69,69,69)" opacity="0.70"/>
<circle cx="516.9" cy="82.7" r="0.67" fill="rgb(75,75,75)" opacity="0.69"/>
<circle cx="516.1" cy="82.3" r="0.76" fill="rgb(81,81,81)" opacity="0.71"/>
<circle cx="507.9" cy="73.9" r="1.01" fill="rgb(79,79,79)" opacity="0.76"/>
<circle cx="502.3" cy="69.9" r="0.65" fill="rgb(83,83,83)" opacity="0.40"/>
<circle cx="523.2" cy="73.0" r="0.52" fill="rgb(87,87,87)" opacity="0.34"/>
<circle cx="508.3" cy="82.2" r="1.04" fill="rgb(25,25,25)" opacity="0.77"/>
<circle cx="516.8" cy="74.3" r="0.67" fill="rgb(80,80,80)" opacity="0.71"/>
<circle cx="514.1" cy="68.3" r="0.58" fill="rgb(81,81,81)" opacity="0.49"/>
<circle cx="503.5" cy="72.9" r="0.65" fill="rgb(67,67,67)" opacity="0.60"/>
<circle cx="503.5" cy="72.8" r="1.00" fill="rgb(22,22,22)" opacity="0.59"/>
<circle cx="520.0" cy="85.3" r="0.59" fill="rgb(29,29,29)" opacity="0.72"/>
<circle cx="512.8" cy="73.5" r="0.95" fill="rgb(60,60,60)" opacity="0.77"/>
<circle cx="519.7" cy="78.0" r="0.82" fill="rgb(27,27,27)" opacity="0.64"/>
<circle cx="498.8" cy="77.0" r="0.73" fill="rgb(75,75,75)" opacity="0.42"/>
<circle cx="522.2" cy="76.4" r="0.76" fill="rgb(78,78,78)" opacity="0.48"/>
<circle cx="501.7" cy="81.6" r="0.51" fill="rgb(17,17,17)" opacity="0.56"/>
<circle cx="503.1" cy="81.9" r="0.71" fill="rgb(81,81,81)" opacity="0.62"/>
<circle cx="508.0" cy="66.6" r="1.04" fill="rgb(47,47,47)" opacity="0.37"/>
<circle cx="502.9" cy="75.1" r="0.67" fill="rgb(68,68,68)" opacity="0.63"/>
<circle cx="509.8" cy="80.5" r="0.65" fill="rgb(20,20,20)" opacity="0.82"/>
<circle cx="502.5" cy="82.5" r="0.88" fill="rgb(58,58,58)" opacity="0.57"/>
<circle cx="516.1" cy="79.1" r="0.95" fill="rgb(84,84,84)" opacity="0.77"/>
<circle cx="516.7" cy="71.8" r="1.00" fill="rgb(84,84,84)" opacity="0.63"/>
<circle cx="515.3" cy="80.5" r="0.58" fill="rgb(71,71,71)" opacity="0.77"/>
<circle cx="510.0" cy="70.2" r="0.89" fill="rgb(59,59,59)" opacity="0.63"/>
<circle cx="507.1" cy="77.6" r="0.79" fill="rgb(31,31,31)" opacity="0.81"/>
<circle cx="505.4" cy="71.5" r="0.98" fill="rgb(89,89,89)" opacity="0.61"/>
<circle cx="516.0" cy="87.4" r="0.99" fill="rgb(66,66,66)" opacity="0.46"/>
<circle cx="500.3" cy="80.7" r="0.78" fill="rgb(30,30,30)" opacity="0.50"/>
<circle cx="501.1" cy="79.6" r="0.85" fill="rgb(87,87,87)" opacity="0.56"/>
<circle cx="520.8" cy="85.1" r="0.53" fill="rgb(55,55,55)" opacity="0.74"/>
<circle cx="511.8" cy="87.4" r="0.87" fill="rgb(47,47,47)" opacity="0.53"/>
<circle cx="512.1" cy="71.2" r="0.80" fill="rgb(18,18,18)" opacity="0.68"/>
<circle cx="504.5" cy="72.1" r="0.62" fill="rgb(16,16,16)" opacity="0.61"/>
<circle cx="506.6" cy="88.6" r="0.54" fill="rgb(52,52,52)" opacity="0.40"/>
<circle cx="515.4" cy="68.9" r="0.52" fill="rgb(37,37,37)" opacity="0.50"/>
<circle cx="507.6" cy="71.7" r="0.80" fill="rgb(68,68,68)" opacity="0.68"/>
<circle cx="522.0" cy="70.3" r="0.80" fill="rgb(24,24,24)" opacity="0.30"/>
<circle cx="519.9" cy="85.9" r="0.78" fill="rgb(19,19,19)" opacity="0.65"/>
<circle cx="519.2" cy="76.6" r="0.63" fill="rgb(73,73,73)" opacity="0.65"/>
<circle cx="500.1" cy="75.4" r="1.04" fill="rgb(17,17,17)" opacity="0.49"/>
<circle cx="518.5" cy="81.7" r="0.52" fill="rgb(86,86,86)" opacity="0.77"/>
<circle cx="520.0" cy="87.6" r="0.95" fill="rgb(64,64,64)" opacity="0.34"/>
<circle cx="513.0" cy="74.2" r="0.59" fill="rgb(23,23,23)" opacity="0.79"/>
<circle cx="522.3" cy="86.4" r="0.95" fill="rgb(35,35,35)" opacity="0.49"/>
<circle cx="519.8" cy="86.6" r="0.93" fill="rgb(67,67,67)" opacity="0.54"/>
<circle cx="512.2" cy="72.1" r="1.02" fill="rgb(86,86,86)" opacity="0.72"/>
<circle cx="514.9" cy="73.4" r="0.87" fill="rgb(27,27,27)" opacity="0.73"/>
<circle cx="514.9" cy="75.1" r="1.01" fill="rgb(53,53,53)" opacity="0.78"/>
<circle cx="522.5" cy="83.5" r="0.59" fill="rgb(34,34,34)" opacity="0.74"/>
<circle cx="516.9" cy="87.0" r="0.53" fill="rgb(26,26,26)" opacity="0.47"/>
<circle cx="511.3" cy="81.2" r="0.89" fill="rgb(71,71,71)" opacity="0.81"/>
<circle cx="522.6" cy="84.1" r="0.61" fill="rgb(32,32,32)" opacity="0.71"/>
<circle cx="514.2" cy="75.0" r="0.88" fill="rgb(58,58,58)" opacity="0.79"/>
<circle cx="506.8" cy="79.0" r="1.01" fill="rgb(34,34,34)" opacity="0.80"/>
<circle cx="512.5" cy="79.5" r="0.54" fill="rgb(45,45,45)" opacity="0.84"/>
<circle cx="507.5" cy="87.1" r="0.66" fill="rgb(17,17,17)" opacity="0.52"/>
<circle cx="510.1" cy="77.4" r="0.73" fill="rgb(38,38,38)" opacity="0.85"/>
<circle cx="507.7" cy="68.7" r="0.61" fill="rgb(33,33,33)" opacity="0.52"/>
<circle cx="506.0" cy="72.9" r="1.02" fill="rgb(27,27,27)" opacity="0.69"/>
<circle cx="504.3" cy="86.4" r="0.70" fill="rgb(39,39,39)" opacity="0.47"/>
<circle cx="510.3" cy="80.1" r="0.91" fill="rgb(63,63,63)" opacity="0.83"/>
<circle cx="503.8" cy="86.8" r="0.95" fill="rgb(76,76,76)" opacity="0.43"/>
<circle cx="521.0" cy="87.4" r="0.76" fill="rgb(47,47,47)" opacity="0.37"/>
<circle cx="508.8" cy="67.6" r="0.77" fill="rgb(47,47,47)" opacity="0.45"/>
<circle cx="503.1" cy="73.6" r="0.75" fill="rgb(49,49,49)" opacity="0.61"/>
<circle cx="515.4" cy="85.9" r="0.90" fill="rgb(89,89,89)" opacity="0.58"/>
<circle cx="505.1" cy="80.9" r="0.60" fill="rgb(80,80,80)" opacity="0.72"/>
<circle cx="509.1" cy="86.2" r="0.60" fill="rgb(22,22,22)" opacity="0.60"/>
<circle cx="512.5" cy="82.1" r="0.83" fill="rgb(87,87,87)" opacity="0.78"/>
<circle cx="501.0" cy="79.1" r="0.89" fill="rgb(15,15,15)" opacity="0.56"/>
<circle cx="502.5" cy="84.6" r="0.84" fill="rgb(21,21,21)" opacity="0.49"/>
<circle cx="513.7" cy="77.2" r="0.96" fill="rgb(55,55,55)" opacity="0.83"/>
<circle cx="509.2" cy="82.8" r="0.53" fill="rgb(44,44,44)" opacity="0.76"/>
<circle cx="499.0" cy="84.7" r="0.74" fill="rgb(68,68,68)" opacity="0.28"/>
<circle cx="506.2" cy="68.4" r="0.89" fill="rgb(53,53,53)" opacity="0.46"/>
<circle cx="515.2" cy="66.6" r="0.90" fill="rgb(74,74,74)" opacity="0.34"/>
<circle cx="503.3" cy="81.5" r="0.91" fill="rgb(60,60,60)" opacity="0.64"/>
<circle cx="523.0" cy="85.4" r="0.55" fill="rgb(74,74,74)" opacity="0.57"/>
<circle cx="521.0" cy="71.2" r="0.93" fill="rgb(20,20,20)" opacity="0.41"/>
<circle cx="518.2" cy="84.2" r="1.03" fill="rgb(84,84,84)" opacity="0.76"/>
<circle cx="513.6" cy="77.6" r="0.61" fill="rgb(38,38,38)" opacity="0.83"/>
<circle cx="504.9" cy="82.9" r="1.01" fill="rgb(36,36,36)" opacity="0.66"/>
<circle cx="505.7" cy="74.4" r="0.87" fill="rgb(87,87,87)" opacity="0.72"/>
<circle cx="500.4" cy="69.2" r="1.03" fill="rgb(83,83,83)" opacity="0.26"/>
<circle cx="515.6" cy="77.9" r="0.52" fill="rgb(83,83,83)" opacity="0.79"/>
<circle cx="510.4" cy="70.5" r="0.88" fill="rgb(43,43,43)" opacity="0.65"/>
<circle cx="512.5" cy="79.0" r="0.56" fill="rgb(49,49,49)" opacity="0.84"/>
<circle cx="521.5" cy="75.7" r="0.96" fill="rgb(63,63,63)" opacity="0.52"/>
<circle cx="515.0" cy="72.9" r="0.77" fill="rgb(65,65,65)" opacity="0.71"/>
<circle cx="509.3" cy="80.3" r="0.89" fill="rgb(34,34,34)" opacity="0.82"/>
<circle cx="514.8" cy="78.7" r="0.74" fill="rgb(52,52,52)" opacity="0.81"/>
<circle cx="507.7" cy="79.4" r="0.74" fill="rgb(35,35,35)" opacity="0.81"/>
<circle cx="516.4" cy="88.2" r="0.70" fill="rgb(60,60,60)" opacity="0.40"/>
<circle cx="506.2" cy="84.3" r="0.96" fill="rgb(52,52,52)" opacity="0.65"/>
<circle cx="511.6" cy="72.6" r="0.97" fill="rgb(58,58,58)" opacity="0.75"/>
<circle cx="512.5" cy="75.6" r="0.57" fill="rgb(47,47,47)" opacity="0.82"/>
<circle cx="504.5" cy="82.4" r="0.79" fill="rgb(71,71,71)" opacity="0.66"/>
<circle cx="512.8" cy="73.8" r="0.54" fill="rgb(16,16,16)" opacity="0.78"/>
<circle cx="506.8" cy="85.1" r="0.71" fill="rgb(42,42,42)" opacity="0.62"/>
<circle cx="503.6" cy="84.2" r="0.81" fill="rgb(54,54,54)" opacity="0.56"/>
<circle cx="511.4" cy="88.6" r="0.70" fill="rgb(68,68,68)" opacity="0.45"/>
<circle cx="518.7" cy="84.8" r="0.83" fill="rgb(52,52,52)" opacity="0.74"/>
<circle cx="520.8" cy="75.7" r="0.59" fill="rgb(47,47,47)" opacity="0.56"/>
<circle cx="506.4" cy="72.9" r="0.96" fill="rgb(33,33,33)" opacity="0.70"/>
<circle cx="503.7" cy="80.0" r="0.58" fill="rgb(22,22,22)" opacity="0.68"/>
<circle cx="507.9" cy="82.8" r="1.04" fill="rgb(56,56,56)" opacity="0.74"/>
<circle cx="519.3" cy="79.1" r="0.96" fill="rgb(15,15,15)" opacity="0.65"/>
<circle cx="500.7" cy="84.7" r="0.73" fill="rgb(34,34,34)" opacity="0.40"/>
<circle cx="504.8" cy="86.8" r="0.51" fill="rgb(33,33,33)" opacity="0.47"/>
<circle cx="500.4" cy="83.1" r="0.57" fill="rgb(31,31,31)" opacity="0.44"/>
<circle cx="501.8" cy="75.3" r="0.91" fill="rgb(35,35,35)" opacity="0.59"/>
<circle cx="501.1" cy="71.9" r="1.04" fill="rgb(60,60,60)" opacity="0.44"/>
<circle cx="512.8" cy="86.7" r="0.65" fill="rgb(82,82,82)" opacity="0.57"/>
<circle cx="513.6" cy="89.9" r="0.91" fill="rgb(79,79,79)" opacity="0.34"/>
<circle cx="509.6" cy="84.2" r="0.61" fill="rgb(41,41,41)" opacity="0.71"/>
<circle cx="513.2" cy="69.9" r="0.93" fill="rgb(56,56,56)" opacity="0.60"/>
<circle cx="505.9" cy="73.8" r="1.03" fill="rgb(72,72,72)" opacity="0.71"/>
<circle cx="514.7" cy="74.4" r="0.62" fill="rgb(66,66,66)" opacity="0.77"/>
<circle cx="500.2" cy="78.5" r="0.98" fill="rgb(41,41,41)" opacity="0.52"/>
<circle cx="502.2" cy="78.4" r="1.04" fill="rgb(44,44,44)" opacity="0.63"/>
<circle cx="509.8" cy="69.3" r="0.91" fill="rgb(62,62,62)" opacity="0.58"/>
<circle cx="507.2" cy="74.5" r="0.97" fill="rgb(27,27,27)" opacity="0.77"/>
<circle cx="508.0" cy="84.7" r="0.83" fill="rgb(18,18,18)" opacity="0.67"/>
<circle cx="505.4" cy="82.8" r="0.65" fill="rgb(79,79,79)" opacity="0.68"/>
<circle cx="501.7" cy="85.3" r="0.95" fill="rgb(79,79,79)" opacity="0.42"/>
<circle cx="510.3" cy="68.9" r="0.85" fill="rgb(54,54,54)" opacity="0.56"/>
<circle cx="519.3" cy="77.3" r="0.59" fill="rgb(24,24,24)" opacity="0.66"/>
<circle cx="518.8" cy="85.2" r="0.58" fill="rgb(73,73,73)" opacity="0.71"/>
<circle cx="510.8" cy="83.5" r="0.92" fill="rgb(88,88,88)" opacity="0.75"/>
<circle cx="515.6" cy="71.4" r="0.81" fill="rgb(55,55,55)" opacity="0.64"/>
<circle cx="513.5" cy="79.3" r="0.86" fill="rgb(32,32,32)" opacity="0.83"/>
<circle cx="512.4" cy="78.4" r="0.78" fill="rgb(19,19,19)" opacity="0.84"/>
<circle cx="514.7" cy="79.0" r="0.88" fill="rgb(72,72,72)" opacity="0.81"/>
<circle cx="501.5" cy="71.8" r="0.98" fill="rgb(42,42,42)" opacity="0.46"/>
<circle cx="518.6" cy="69.5" r="0.60" fill="rgb(78,78,78)" opacity="0.43"/>
<circle cx="508.4" cy="66.8" r="0.73" fill="rgb(20,20,20)" opacity="0.39"/>
<circle cx="518.7" cy="77.9" r="1.04" fill="rgb(70,70,70)" opacity="0.68"/>
<circle cx="517.3" cy="67.2" r="0.51" fill="rgb(36,36,36)" opacity="0.33"/>
<circle cx="516.2" cy="79.1" r="0.73" fill="rgb(41,41,41)" opacity="0.77"/>
<circle cx="508.8" cy="74.1" r="0.91" fill="rgb(76,76,76)" opacity="0.78"/>
<circle cx="521.2" cy="78.3" r="0.72" fill="rgb(58,58,58)" opacity="0.56"/>
<circle cx="509.2" cy="80.8" r="0.87" fill="rgb(32,32,32)" opacity="0.81"/>
<circle cx="516.4" cy="84.7" r="1.02" fill="rgb(22,22,22)" opacity="0.61"/>
<circle cx="507.9" cy="80.4" r="0.80" fill="rgb(68,68,68)" opacity="0.80"/>
<circle cx="523.3" cy="80.7" r="0.96" fill="rgb(86,86,86)" opacity="0.55"/>
<circle cx="507.1" cy="87.9" r="0.54" fill="rgb(36,36,36)" opacity="0.47"/>
<circle cx="516.2" cy="76.0" r="0.62" fill="rgb(62,62,62)" opacity="0.76"/>
<circle cx="502.1" cy="78.7" r="1.00" fill="rgb(57,57,57)" opacity="0.63"/>
<circle cx="519.7" cy="79.6" r="1.01" fill="rgb(32,32,32)" opacity="0.63"/>
<circle cx="520.3" cy="85.2" r="0.61" fill="rgb(72,72,72)" opacity="0.74"/>
<circle cx="524.0" cy="85.7" r="0.80" fill="rgb(83,83,83)" opacity="0.42"/>
<circle cx="499.1" cy="81.1" r="0.50" fill="rgb(22,22,22)" opacity="0.42"/>
<circle cx="516.8" cy="81.1" r="0.65" fill="rgb(84,84,84)" opacity="0.72"/>
<circle cx="504.4" cy="84.3" r="0.92" fill="rgb(33,33,33)" opacity="0.59"/>
<circle cx="509.5" cy="74.9" r="0.95" fill="rgb(72,72,72)" opacity="0.81"/>
<circle cx="507.3" cy="77.3" r="0.85" fill="rgb(23,23,23)" opacity="0.81"/>
<circle cx="507.9" cy="77.0" r="0.89" fill="rgb(37,37,37)" opacity="0.82"/>
<circle cx="514.1" cy="68.3" r="0.92" fill="rgb(79,79,79)" opacity="0.49"/>
<circle cx="511.8" cy="70.4" r="0.95" fill="rgb(61,61,61)" opacity="0.64"/>
<circle cx="516.6" cy="73.9" r="0.90" fill="rgb(48,48,48)" opacity="0.70"/>
<circle cx="506.0" cy="79.8" r="0.82" fill="rgb(68,68,68)" opacity="0.77"/>
<circle cx="507.9" cy="81.1" r="0.84" fill="rgb(69,69,69)" opacity="0.79"/>
<circle cx="513.9" cy="80.5" r="0.51" fill="rgb(75,75,75)" opacity="0.80"/>
<circle cx="521.5" cy="69.2" r="0.87" fill="rgb(52,52,52)" opacity="0.27"/>
<circle cx="502.1" cy="74.7" r="1.01" fill="rgb(86,86,86)" opacity="0.59"/>
<circle cx="517.7" cy="74.1" r="0.52" fill="rgb(21,21,21)" opacity="0.67"/>
<circle cx="502.6" cy="82.4" r="0.66" fill="rgb(46,46,46)" opacity="0.58"/>
<circle cx="521.8" cy="84.3" r="0.56" fill="rgb(49,49,49)" opacity="0.76"/>
<circle cx="516.2" cy="82.0" r="0.82" fill="rgb(51,51,51)" opacity="0.72"/>
<circle cx="511.8" cy="68.5" r="0.75" fill="rgb(86,86,86)" opacity="0.53"/>
<circle cx="514.5" cy="78.7" r="0.61" fill="rgb(81,81,81)" opacity="0.81"/>
<circle cx="502.2" cy="76.6" r="0.62" fill="rgb(37,37,37)" opacity="0.62"/>
<circle cx="510.8" cy="70.9" r="0.76" fill="rgb(28,28,28)" opacity="0.67"/>
<circle cx="516.7" cy="82.6" r="0.53" fill="rgb(24,24,24)" opacity="0.68"/>
<circle cx="523.1" cy="75.1" r="0.89" fill="rgb(61,61,61)" opacity="0.40"/>
<circle cx="506.6" cy="68.4" r="0.87" fill="rgb(59,59,59)" opacity="0.47"/>
<circle cx="510.1" cy="81.9" r="0.67" fill="rgb(69,69,69)" opacity="0.80"/>
<circle cx="509.8" cy="79.4" r="0.58" fill="rgb(41,41,41)" opacity="0.84"/>
<circle cx="502.1" cy="80.3" r="0.96" fill="rgb(53,53,53)" opacity="0.61"/>
<circle cx="502.1" cy="79.9" r="0.93" fill="rgb(42,42,42)" opacity="0.61"/>
<circle cx="508.5" cy="68.1" r="0.57" fill="rgb(78,78,78)" opacity="0.49"/>
<circle cx="518.6" cy="81.7" r="0.77" fill="rgb(39,39,39)" opacity="0.78"/>
<circle cx="511.1" cy="81.5" r="0.63" fill="rgb(44,44,44)" opacity="0.81"/>
<circle cx="507.4" cy="76.7" r="0.87" fill="rgb(77,77,77)" opacity="0.81"/>
<circle cx="518.7" cy="75.3" r="0.69" fill="rgb(44,44,44)" opacity="0.66"/>
<circle cx="509.3" cy="74.5" r="1.03" fill="rgb(69,69,69)" opacity="0.80"/>
<circle cx="502.6" cy="78.2" r="0.58" fill="rgb(28,28,28)" opacity="0.65"/>
</g>
<circle cx="530" cy="27" r="0.6" fill="#444"/>
</g>
<text x="521.1" y="115.3" font-size="8.8" text-anchor="middle" stroke="#000" stroke-width="0.1">100 nm</text>
<rect x="512.3" y="118" width="21.2" height="1.5" fill="#111"/>
<defs>
<radialGradient id="sph" cx="0.38" cy="0.32" r="0.72">
<stop offset="0" stop-color="#86acfb"/><stop offset="0.3" stop-color="#4a7aee"/><stop offset="0.68" stop-color="#3864dc"/><stop offset="1" stop-color="#1e3ea2"/></radialGradient>
<radialGradient id="green" cx="0.6" cy="0.45" r="0.6">
<stop offset="0" stop-color="#d8f2e4"/><stop offset="0.7" stop-color="#a8dcc2"/><stop offset="1" stop-color="#80c4a4"/></radialGradient>
<radialGradient id="ball" cx="0.38" cy="0.32" r="0.7">
<stop offset="0" stop-color="#c88a58"/><stop offset="0.4" stop-color="#85481c"/><stop offset="1" stop-color="#48220a"/></radialGradient>
<radialGradient id="rim" cx="0.3" cy="0.5" r="0.8">
<stop offset="0" stop-color="#5c88f5"/><stop offset="1" stop-color="#2a4cc0"/></radialGradient>
<clipPath id="hclip"><circle cx="468.4" cy="218.7" r="39.6"/></clipPath>
<filter id="hbl" x="-50%" y="-50%" width="200%" height="200%"><feGaussianBlur stdDeviation="1.5"/></filter>
</defs>
<ellipse cx="470.4" cy="222.7" rx="39.6" ry="39.6" fill="#9fb0d8" opacity="0.4" filter="url(#hbl)"/>
<circle cx="468.4" cy="218.7" r="39.6" fill="url(#sph)"/>
<g clip-path="url(#hclip)">
<ellipse cx="468.4" cy="268" rx="50" ry="22" fill="#1a3490" opacity="0.35" filter="url(#hbl)"/>
<ellipse cx="480.5" cy="216.5" rx="28.3" ry="36.6" fill="#3560d6"/><ellipse cx="480.5" cy="217" rx="23" ry="34.2" fill="#2846b8"/>
<clipPath id="inner"><ellipse cx="480" cy="217" rx="21" ry="33"/></clipPath>
<ellipse cx="480" cy="217" rx="21" ry="33" fill="url(#green)"/>
<g clip-path="url(#inner)">
<path d="M460,202 Q470,192 482,196 Q495,201 497,214 Q498,232 487,245 Q474,250 462,240 Q455,222 460,202 Z" fill="#4a230a"/>
<circle cx="465.6" cy="233.2" r="8.6" fill="url(#ball)"/>
<circle cx="464.7" cy="214.7" r="8.4" fill="url(#ball)"/>
<circle cx="467.4" cy="198.8" r="7.8" fill="url(#ball)"/>
<circle cx="478" cy="194.4" r="6.8" fill="url(#ball)"/>
<circle cx="493.8" cy="213" r="6.2" fill="url(#ball)"/>
<circle cx="493" cy="225.3" r="7.6" fill="url(#ball)"/>
<circle cx="479.7" cy="239.4" r="8.4" fill="url(#ball)"/>
<circle cx="482.4" cy="206.8" r="10.4" fill="url(#ball)"/>
<circle cx="477" cy="224.4" r="9.6" fill="url(#ball)"/>
</g>
</g>
<path d="M448,205 Q450,193 461,186" stroke="#ffffff" stroke-width="4" fill="none" opacity="0.7" stroke-linecap="round" filter="url(#hbl)"/>
<ellipse cx="452" cy="196" rx="3" ry="5" transform="rotate(30 452 196)" fill="#ffffff" opacity="0.55" filter="url(#hbl)"/>
<path d="M463.5,183 Q451,200 452.6,222 Q454,240 466,252" stroke="#80a8fa" stroke-width="1.2" fill="none" opacity="0.8"/>
<path d="M472.8,202 V163.8 H491.9 V203" stroke="#e27f2e" stroke-width="1.2" fill="none"/>
<path d="M475.5,163.8 l4,-1.9 v3.8 z M489.3,163.8 l-4,-1.9 v3.8 z" fill="#e27f2e"/>
<text x="476.7" y="159.8" font-size="9" text-anchor="middle" fill="#e27f2e" stroke="#e27f2e" stroke-width="0.2">9.3 nm</text>
<line x1="488.8" y1="191.6" x2="529" y2="191.6" stroke="#3ab8b0" stroke-width="1"/>
<line x1="474" y1="247.2" x2="529" y2="247.2" stroke="#3ab8b0" stroke-width="1"/>
<line x1="527.4" y1="192" x2="527.4" y2="247" stroke="#3ab8b0" stroke-width="1"/>
<path d="M527.4,192.2 l-2.2,4.5 h4.4 z M527.4,246.6 l-2.2,-4.5 h4.4 z" fill="#3ab8b0"/>
<text x="0" y="0" font-size="9.3" text-anchor="middle" fill="#3ab8b0" stroke="#3ab8b0" stroke-width="0.3" transform="translate(532.0,220.8) rotate(90)">101.7 nm</text>
<line x1="429.2" y1="213" x2="429.2" y2="285.5" stroke="#2646a4" stroke-width="1.4"/>
<line x1="509" y1="213" x2="509" y2="285.5" stroke="#2646a4" stroke-width="1.4"/>
<line x1="430" y1="283.5" x2="442.5" y2="283.5" stroke="#2646a4" stroke-width="1.3"/>
<line x1="496" y1="283.5" x2="508.2" y2="283.5" stroke="#2646a4" stroke-width="1.3"/>
<path d="M429.8,283.5 l4,-1.8 v3.6 z M508.4,283.5 l-4,-1.8 v3.6 z" fill="#2646a4"/>
<text x="469.4" y="288" font-size="10" text-anchor="middle" fill="#2646a4" stroke="#2646a4" stroke-width="0.3">128.2 nm</text>
</svg></body></html>
